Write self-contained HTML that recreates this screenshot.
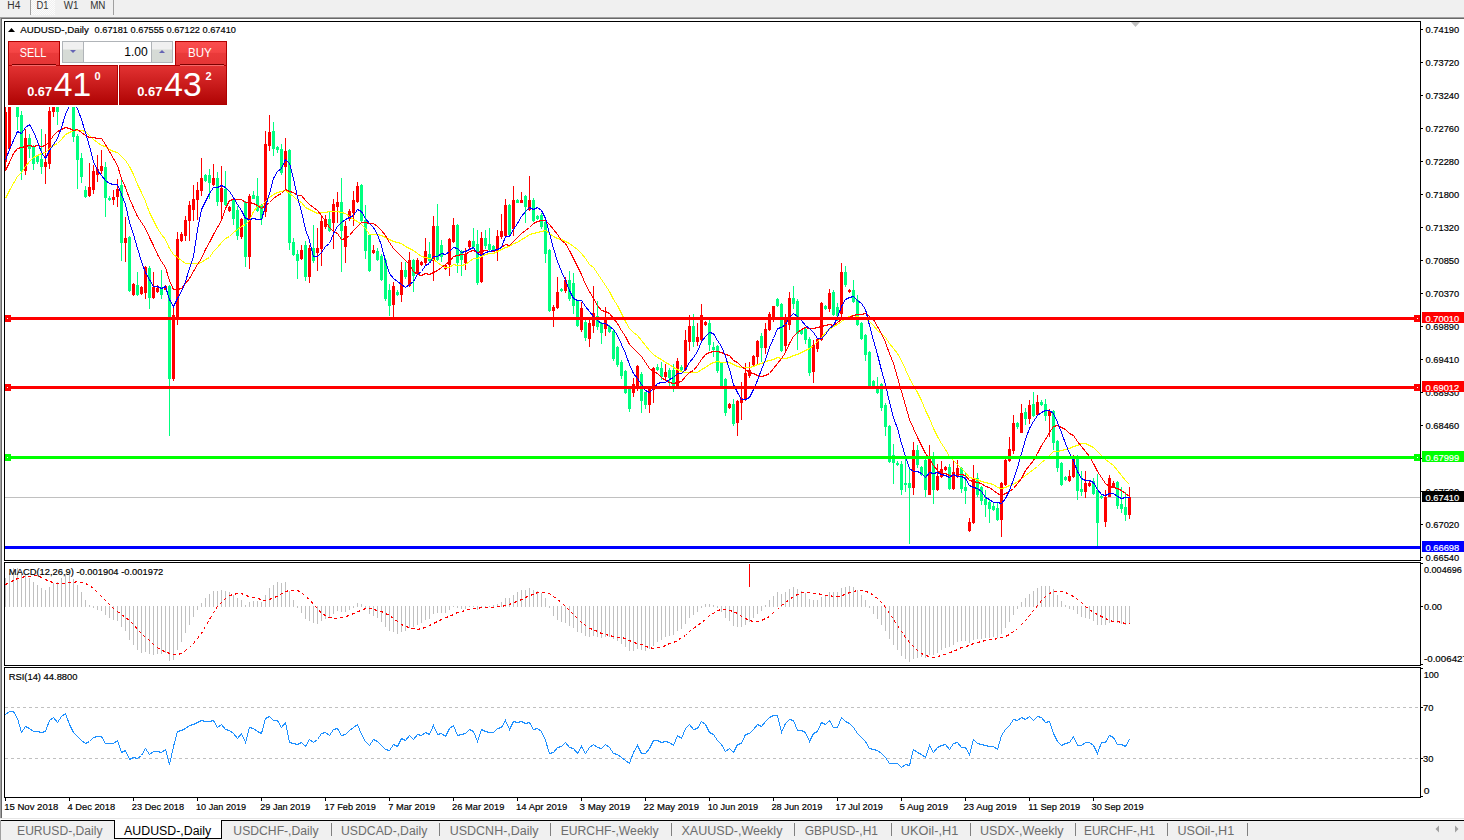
<!DOCTYPE html><html><head><meta charset="utf-8"><style>
html,body{margin:0;padding:0;width:1464px;height:840px;overflow:hidden;background:#fff;}
svg{display:block;} text{font-family:"Liberation Sans",sans-serif;}
</style></head><body>
<svg width="1464" height="840" viewBox="0 0 1464 840">
<defs>
<clipPath id="cm"><rect x="5" y="22" width="1415" height="538"/></clipPath>
<clipPath id="cd"><rect x="5" y="563" width="1415" height="102"/></clipPath>
<clipPath id="cr"><rect x="5" y="668" width="1415" height="129"/></clipPath>
<linearGradient id="gtop" x1="0" y1="0" x2="0" y2="1"><stop offset="0" stop-color="#fb4e4e"/><stop offset="0.45" stop-color="#f44444"/><stop offset="0.5" stop-color="#ea3a3a"/><stop offset="1" stop-color="#e43434"/></linearGradient>
<linearGradient id="gbot" x1="0" y1="0" x2="0" y2="1"><stop offset="0" stop-color="#e23232"/><stop offset="1" stop-color="#b00404"/></linearGradient>
<linearGradient id="gspin" x1="0" y1="0" x2="0" y2="1"><stop offset="0" stop-color="#f0f0f0"/><stop offset="0.35" stop-color="#f0f0f0"/><stop offset="0.4" stop-color="#d6dbd6"/><stop offset="1" stop-color="#d6dbd6"/></linearGradient>
<pattern id="chk" width="2" height="2" patternUnits="userSpaceOnUse"><rect width="2" height="2" fill="#f0f0f0"/><rect width="1" height="1" fill="#fcfcfc"/><rect x="1" y="1" width="1" height="1" fill="#fcfcfc"/></pattern>
</defs>
<rect x="0" y="0" width="1464" height="840" fill="#ffffff"/>
<g shape-rendering="crispEdges">
<rect x="0" y="0" width="1464" height="17" fill="#f0f0f0"/>
<rect x="31" y="0" width="24" height="15" fill="url(#chk)"/>
<rect x="30" y="0" width="1" height="15" fill="#a0a0a0"/>
<rect x="113" y="0" width="1" height="15" fill="#a0a0a0"/>
<rect x="0" y="17" width="1464" height="1" fill="#a0a0a0"/>
<rect x="1" y="18" width="1463" height="1" fill="#696969"/>
<rect x="0" y="17" width="1" height="802" fill="#a0a0a0"/>
<rect x="1" y="18" width="1" height="801" fill="#696969"/>
</g>
<text x="7.35" y="9" font-size="10" fill="#333" text-anchor="start" font-weight="normal" letter-spacing="0"  textLength="13.10" lengthAdjust="spacingAndGlyphs">H4</text>
<text x="36.449999999999996" y="9" font-size="10" fill="#333" text-anchor="start" font-weight="normal" letter-spacing="0"  textLength="12.00" lengthAdjust="spacingAndGlyphs">D1</text>
<text x="63.75" y="9" font-size="10" fill="#333" text-anchor="start" font-weight="normal" letter-spacing="0"  textLength="14.70" lengthAdjust="spacingAndGlyphs">W1</text>
<text x="90.14999999999999" y="9" font-size="10" fill="#333" text-anchor="start" font-weight="normal" letter-spacing="0"  textLength="15.30" lengthAdjust="spacingAndGlyphs">MN</text>
<g clip-path="url(#cm)" shape-rendering="crispEdges">
<rect x="5" y="497" width="1415" height="1" fill="#c0c0c0"/>
<rect x="5" y="100" width="1" height="71" fill="#ff0000"/><rect x="4" y="112" width="3" height="50" fill="#ff0000"/><rect x="9" y="85" width="1" height="66" fill="#ff0000"/><rect x="8" y="94" width="3" height="55" fill="#ff0000"/><rect x="13" y="90" width="1" height="7" fill="#ff0000"/><rect x="12" y="92" width="3" height="3" fill="#ff0000"/><rect x="17" y="85" width="1" height="45" fill="#00ff7f"/><rect x="16" y="94" width="3" height="23" fill="#00ff7f"/><rect x="21" y="111" width="1" height="69" fill="#00ff7f"/><rect x="20" y="115" width="3" height="56" fill="#00ff7f"/><rect x="25" y="129" width="1" height="46" fill="#ff0000"/><rect x="24" y="138" width="3" height="33" fill="#ff0000"/><rect x="29" y="134" width="1" height="24" fill="#00ff7f"/><rect x="28" y="138" width="3" height="11" fill="#00ff7f"/><rect x="33" y="145" width="1" height="25" fill="#00ff7f"/><rect x="32" y="147" width="3" height="17" fill="#00ff7f"/><rect x="37" y="155" width="1" height="9" fill="#00ff7f"/><rect x="36" y="156" width="3" height="6" fill="#00ff7f"/><rect x="41" y="129" width="1" height="45" fill="#00ff7f"/><rect x="40" y="159" width="3" height="8" fill="#00ff7f"/><rect x="45" y="134" width="1" height="50" fill="#ff0000"/><rect x="44" y="162" width="3" height="5" fill="#ff0000"/><rect x="49" y="107" width="1" height="62" fill="#ff0000"/><rect x="48" y="111" width="3" height="53" fill="#ff0000"/><rect x="53" y="88" width="1" height="29" fill="#ff0000"/><rect x="52" y="95" width="3" height="17" fill="#ff0000"/><rect x="57" y="90" width="1" height="35" fill="#00ff7f"/><rect x="56" y="97" width="3" height="15" fill="#00ff7f"/><rect x="61" y="82" width="1" height="11" fill="#ff0000"/><rect x="60" y="84" width="3" height="7" fill="#ff0000"/><rect x="65" y="46" width="1" height="41" fill="#ff0000"/><rect x="64" y="66" width="3" height="19" fill="#ff0000"/><rect x="69" y="45" width="1" height="62" fill="#00ff7f"/><rect x="68" y="66" width="3" height="39" fill="#00ff7f"/><rect x="73" y="100" width="1" height="42" fill="#00ff7f"/><rect x="72" y="104" width="3" height="33" fill="#00ff7f"/><rect x="77" y="134" width="1" height="55" fill="#00ff7f"/><rect x="76" y="136" width="3" height="24" fill="#00ff7f"/><rect x="81" y="153" width="1" height="30" fill="#00ff7f"/><rect x="80" y="158" width="3" height="19" fill="#00ff7f"/><rect x="85" y="186" width="1" height="12" fill="#00ff7f"/><rect x="84" y="190" width="3" height="7" fill="#00ff7f"/><rect x="89" y="163" width="1" height="34" fill="#ff0000"/><rect x="88" y="187" width="3" height="9" fill="#ff0000"/><rect x="93" y="165" width="1" height="29" fill="#ff0000"/><rect x="92" y="171" width="3" height="19" fill="#ff0000"/><rect x="97" y="155" width="1" height="27" fill="#ff0000"/><rect x="96" y="169" width="3" height="6" fill="#ff0000"/><rect x="101" y="150" width="1" height="24" fill="#ff0000"/><rect x="100" y="166" width="3" height="5" fill="#ff0000"/><rect x="105" y="162" width="1" height="55" fill="#00ff7f"/><rect x="104" y="167" width="3" height="31" fill="#00ff7f"/><rect x="109" y="196" width="1" height="5" fill="#00ff7f"/><rect x="108" y="198" width="3" height="2" fill="#00ff7f"/><rect x="113" y="190" width="1" height="15" fill="#ff0000"/><rect x="112" y="197" width="3" height="3" fill="#ff0000"/><rect x="117" y="179" width="1" height="28" fill="#ff0000"/><rect x="116" y="189" width="3" height="8" fill="#ff0000"/><rect x="121" y="180" width="1" height="81" fill="#00ff7f"/><rect x="120" y="185" width="3" height="58" fill="#00ff7f"/><rect x="125" y="217" width="1" height="45" fill="#ff0000"/><rect x="124" y="238" width="3" height="5" fill="#ff0000"/><rect x="129" y="236" width="1" height="56" fill="#00ff7f"/><rect x="128" y="237" width="3" height="54" fill="#00ff7f"/><rect x="133" y="283" width="1" height="13" fill="#ff0000"/><rect x="132" y="284" width="3" height="11" fill="#ff0000"/><rect x="137" y="272" width="1" height="24" fill="#00ff7f"/><rect x="136" y="285" width="3" height="10" fill="#00ff7f"/><rect x="141" y="286" width="1" height="9" fill="#ff0000"/><rect x="140" y="287" width="3" height="7" fill="#ff0000"/><rect x="145" y="266" width="1" height="33" fill="#ff0000"/><rect x="144" y="267" width="3" height="26" fill="#ff0000"/><rect x="149" y="266" width="1" height="43" fill="#00ff7f"/><rect x="148" y="268" width="3" height="30" fill="#00ff7f"/><rect x="153" y="272" width="1" height="27" fill="#ff0000"/><rect x="152" y="287" width="3" height="11" fill="#ff0000"/><rect x="157" y="285" width="1" height="8" fill="#ff0000"/><rect x="156" y="288" width="3" height="4" fill="#ff0000"/><rect x="161" y="270" width="1" height="29" fill="#00ff7f"/><rect x="160" y="287" width="3" height="8" fill="#00ff7f"/><rect x="165" y="285" width="1" height="5" fill="#ff0000"/><rect x="164" y="286" width="3" height="4" fill="#ff0000"/><rect x="169" y="285" width="1" height="151" fill="#00ff7f"/><rect x="168" y="286" width="3" height="93" fill="#00ff7f"/><rect x="173" y="306" width="1" height="75" fill="#ff0000"/><rect x="172" y="315" width="3" height="64" fill="#ff0000"/><rect x="177" y="232" width="1" height="93" fill="#ff0000"/><rect x="176" y="239" width="3" height="78" fill="#ff0000"/><rect x="181" y="232" width="1" height="10" fill="#ff0000"/><rect x="180" y="234" width="3" height="7" fill="#ff0000"/><rect x="185" y="216" width="1" height="25" fill="#ff0000"/><rect x="184" y="220" width="3" height="16" fill="#ff0000"/><rect x="189" y="201" width="1" height="40" fill="#ff0000"/><rect x="188" y="205" width="3" height="16" fill="#ff0000"/><rect x="193" y="185" width="1" height="36" fill="#ff0000"/><rect x="192" y="199" width="3" height="11" fill="#ff0000"/><rect x="197" y="182" width="1" height="38" fill="#ff0000"/><rect x="196" y="190" width="3" height="10" fill="#ff0000"/><rect x="201" y="158" width="1" height="38" fill="#ff0000"/><rect x="200" y="178" width="3" height="13" fill="#ff0000"/><rect x="205" y="174" width="1" height="8" fill="#00ff7f"/><rect x="204" y="175" width="3" height="6" fill="#00ff7f"/><rect x="209" y="169" width="1" height="30" fill="#00ff7f"/><rect x="208" y="175" width="3" height="8" fill="#00ff7f"/><rect x="213" y="164" width="1" height="22" fill="#ff0000"/><rect x="212" y="178" width="3" height="7" fill="#ff0000"/><rect x="217" y="172" width="1" height="34" fill="#00ff7f"/><rect x="216" y="178" width="3" height="24" fill="#00ff7f"/><rect x="221" y="166" width="1" height="53" fill="#ff0000"/><rect x="220" y="188" width="3" height="14" fill="#ff0000"/><rect x="225" y="171" width="1" height="35" fill="#00ff7f"/><rect x="224" y="189" width="3" height="16" fill="#00ff7f"/><rect x="229" y="206" width="1" height="6" fill="#ff0000"/><rect x="228" y="207" width="3" height="4" fill="#ff0000"/><rect x="233" y="198" width="1" height="27" fill="#00ff7f"/><rect x="232" y="200" width="3" height="19" fill="#00ff7f"/><rect x="237" y="206" width="1" height="34" fill="#00ff7f"/><rect x="236" y="210" width="3" height="26" fill="#00ff7f"/><rect x="241" y="218" width="1" height="21" fill="#ff0000"/><rect x="240" y="219" width="3" height="18" fill="#ff0000"/><rect x="245" y="201" width="1" height="66" fill="#00ff7f"/><rect x="244" y="202" width="3" height="55" fill="#00ff7f"/><rect x="249" y="194" width="1" height="75" fill="#ff0000"/><rect x="248" y="196" width="3" height="61" fill="#ff0000"/><rect x="253" y="191" width="1" height="8" fill="#00ff7f"/><rect x="252" y="195" width="3" height="4" fill="#00ff7f"/><rect x="257" y="178" width="1" height="34" fill="#00ff7f"/><rect x="256" y="196" width="3" height="15" fill="#00ff7f"/><rect x="261" y="204" width="1" height="21" fill="#00ff7f"/><rect x="260" y="205" width="3" height="14" fill="#00ff7f"/><rect x="265" y="131" width="1" height="86" fill="#ff0000"/><rect x="264" y="144" width="3" height="68" fill="#ff0000"/><rect x="269" y="115" width="1" height="36" fill="#ff0000"/><rect x="268" y="132" width="3" height="14" fill="#ff0000"/><rect x="273" y="122" width="1" height="34" fill="#00ff7f"/><rect x="272" y="131" width="3" height="18" fill="#00ff7f"/><rect x="277" y="146" width="1" height="7" fill="#00ff7f"/><rect x="276" y="147" width="3" height="3" fill="#00ff7f"/><rect x="281" y="144" width="1" height="31" fill="#00ff7f"/><rect x="280" y="149" width="3" height="24" fill="#00ff7f"/><rect x="285" y="138" width="1" height="53" fill="#ff0000"/><rect x="284" y="151" width="3" height="16" fill="#ff0000"/><rect x="289" y="149" width="1" height="101" fill="#00ff7f"/><rect x="288" y="150" width="3" height="93" fill="#00ff7f"/><rect x="293" y="238" width="1" height="18" fill="#00ff7f"/><rect x="292" y="242" width="3" height="13" fill="#00ff7f"/><rect x="297" y="250" width="1" height="29" fill="#00ff7f"/><rect x="296" y="254" width="3" height="7" fill="#00ff7f"/><rect x="301" y="245" width="1" height="15" fill="#ff0000"/><rect x="300" y="250" width="3" height="9" fill="#ff0000"/><rect x="305" y="241" width="1" height="40" fill="#00ff7f"/><rect x="304" y="245" width="3" height="32" fill="#00ff7f"/><rect x="309" y="245" width="1" height="38" fill="#ff0000"/><rect x="308" y="248" width="3" height="29" fill="#ff0000"/><rect x="313" y="225" width="1" height="38" fill="#00ff7f"/><rect x="312" y="248" width="3" height="13" fill="#00ff7f"/><rect x="317" y="228" width="1" height="43" fill="#ff0000"/><rect x="316" y="248" width="3" height="5" fill="#ff0000"/><rect x="321" y="215" width="1" height="51" fill="#ff0000"/><rect x="320" y="221" width="3" height="28" fill="#ff0000"/><rect x="325" y="215" width="1" height="14" fill="#ff0000"/><rect x="324" y="219" width="3" height="8" fill="#ff0000"/><rect x="329" y="212" width="1" height="20" fill="#00ff7f"/><rect x="328" y="219" width="3" height="12" fill="#00ff7f"/><rect x="333" y="199" width="1" height="50" fill="#ff0000"/><rect x="332" y="204" width="3" height="19" fill="#ff0000"/><rect x="337" y="192" width="1" height="31" fill="#ff0000"/><rect x="336" y="202" width="3" height="5" fill="#ff0000"/><rect x="341" y="178" width="1" height="94" fill="#00ff7f"/><rect x="340" y="202" width="3" height="29" fill="#00ff7f"/><rect x="345" y="221" width="1" height="42" fill="#ff0000"/><rect x="344" y="226" width="3" height="21" fill="#ff0000"/><rect x="349" y="209" width="1" height="12" fill="#ff0000"/><rect x="348" y="211" width="3" height="8" fill="#ff0000"/><rect x="353" y="191" width="1" height="35" fill="#ff0000"/><rect x="352" y="200" width="3" height="13" fill="#ff0000"/><rect x="357" y="182" width="1" height="21" fill="#ff0000"/><rect x="356" y="186" width="3" height="16" fill="#ff0000"/><rect x="361" y="184" width="1" height="39" fill="#00ff7f"/><rect x="360" y="185" width="3" height="36" fill="#00ff7f"/><rect x="365" y="205" width="1" height="54" fill="#00ff7f"/><rect x="364" y="220" width="3" height="31" fill="#00ff7f"/><rect x="369" y="234" width="1" height="38" fill="#00ff7f"/><rect x="368" y="235" width="3" height="36" fill="#00ff7f"/><rect x="373" y="245" width="1" height="9" fill="#ff0000"/><rect x="372" y="250" width="3" height="3" fill="#ff0000"/><rect x="377" y="248" width="1" height="13" fill="#00ff7f"/><rect x="376" y="251" width="3" height="9" fill="#00ff7f"/><rect x="381" y="254" width="1" height="27" fill="#00ff7f"/><rect x="380" y="256" width="3" height="24" fill="#00ff7f"/><rect x="385" y="258" width="1" height="43" fill="#00ff7f"/><rect x="384" y="260" width="3" height="39" fill="#00ff7f"/><rect x="389" y="284" width="1" height="32" fill="#00ff7f"/><rect x="388" y="290" width="3" height="16" fill="#00ff7f"/><rect x="393" y="282" width="1" height="37" fill="#ff0000"/><rect x="392" y="286" width="3" height="19" fill="#ff0000"/><rect x="397" y="290" width="1" height="6" fill="#00ff7f"/><rect x="396" y="292" width="3" height="3" fill="#00ff7f"/><rect x="401" y="262" width="1" height="40" fill="#ff0000"/><rect x="400" y="270" width="3" height="25" fill="#ff0000"/><rect x="405" y="262" width="1" height="17" fill="#00ff7f"/><rect x="404" y="270" width="3" height="7" fill="#00ff7f"/><rect x="409" y="252" width="1" height="35" fill="#ff0000"/><rect x="408" y="260" width="3" height="26" fill="#ff0000"/><rect x="413" y="259" width="1" height="33" fill="#00ff7f"/><rect x="412" y="260" width="3" height="16" fill="#00ff7f"/><rect x="417" y="258" width="1" height="17" fill="#ff0000"/><rect x="416" y="260" width="3" height="13" fill="#ff0000"/><rect x="421" y="261" width="1" height="5" fill="#ff0000"/><rect x="420" y="262" width="3" height="3" fill="#ff0000"/><rect x="425" y="238" width="1" height="28" fill="#ff0000"/><rect x="424" y="251" width="3" height="12" fill="#ff0000"/><rect x="429" y="242" width="1" height="21" fill="#00ff7f"/><rect x="428" y="254" width="3" height="7" fill="#00ff7f"/><rect x="433" y="216" width="1" height="65" fill="#ff0000"/><rect x="432" y="226" width="3" height="35" fill="#ff0000"/><rect x="437" y="204" width="1" height="57" fill="#00ff7f"/><rect x="436" y="226" width="3" height="34" fill="#00ff7f"/><rect x="441" y="240" width="1" height="22" fill="#00ff7f"/><rect x="440" y="245" width="3" height="12" fill="#00ff7f"/><rect x="445" y="264" width="1" height="6" fill="#ff0000"/><rect x="444" y="265" width="3" height="4" fill="#ff0000"/><rect x="449" y="238" width="1" height="38" fill="#ff0000"/><rect x="448" y="239" width="3" height="26" fill="#ff0000"/><rect x="453" y="218" width="1" height="25" fill="#ff0000"/><rect x="452" y="225" width="3" height="17" fill="#ff0000"/><rect x="457" y="224" width="1" height="49" fill="#00ff7f"/><rect x="456" y="225" width="3" height="38" fill="#00ff7f"/><rect x="461" y="250" width="1" height="26" fill="#00ff7f"/><rect x="460" y="251" width="3" height="9" fill="#00ff7f"/><rect x="465" y="248" width="1" height="22" fill="#ff0000"/><rect x="464" y="254" width="3" height="9" fill="#ff0000"/><rect x="469" y="240" width="1" height="9" fill="#ff0000"/><rect x="468" y="241" width="3" height="6" fill="#ff0000"/><rect x="473" y="228" width="1" height="21" fill="#00ff7f"/><rect x="472" y="241" width="3" height="6" fill="#00ff7f"/><rect x="477" y="230" width="1" height="55" fill="#00ff7f"/><rect x="476" y="244" width="3" height="39" fill="#00ff7f"/><rect x="481" y="232" width="1" height="51" fill="#ff0000"/><rect x="480" y="238" width="3" height="44" fill="#ff0000"/><rect x="485" y="230" width="1" height="19" fill="#00ff7f"/><rect x="484" y="238" width="3" height="8" fill="#00ff7f"/><rect x="489" y="228" width="1" height="23" fill="#00ff7f"/><rect x="488" y="244" width="3" height="6" fill="#00ff7f"/><rect x="493" y="245" width="1" height="6" fill="#00ff7f"/><rect x="492" y="246" width="3" height="4" fill="#00ff7f"/><rect x="497" y="230" width="1" height="31" fill="#ff0000"/><rect x="496" y="236" width="3" height="14" fill="#ff0000"/><rect x="501" y="214" width="1" height="25" fill="#ff0000"/><rect x="500" y="231" width="3" height="6" fill="#ff0000"/><rect x="505" y="199" width="1" height="38" fill="#ff0000"/><rect x="504" y="205" width="3" height="31" fill="#ff0000"/><rect x="509" y="204" width="1" height="32" fill="#00ff7f"/><rect x="508" y="205" width="3" height="30" fill="#00ff7f"/><rect x="513" y="186" width="1" height="50" fill="#ff0000"/><rect x="512" y="200" width="3" height="29" fill="#ff0000"/><rect x="517" y="199" width="1" height="4" fill="#00ff7f"/><rect x="516" y="200" width="3" height="3" fill="#00ff7f"/><rect x="521" y="192" width="1" height="11" fill="#ff0000"/><rect x="520" y="200" width="3" height="3" fill="#ff0000"/><rect x="525" y="195" width="1" height="28" fill="#00ff7f"/><rect x="524" y="196" width="3" height="11" fill="#00ff7f"/><rect x="529" y="176" width="1" height="35" fill="#ff0000"/><rect x="528" y="200" width="3" height="10" fill="#ff0000"/><rect x="533" y="198" width="1" height="24" fill="#00ff7f"/><rect x="532" y="200" width="3" height="21" fill="#00ff7f"/><rect x="537" y="215" width="1" height="5" fill="#00ff7f"/><rect x="536" y="216" width="3" height="3" fill="#00ff7f"/><rect x="541" y="213" width="1" height="16" fill="#00ff7f"/><rect x="540" y="215" width="3" height="12" fill="#00ff7f"/><rect x="545" y="219" width="1" height="44" fill="#00ff7f"/><rect x="544" y="222" width="3" height="32" fill="#00ff7f"/><rect x="549" y="249" width="1" height="63" fill="#00ff7f"/><rect x="548" y="250" width="3" height="61" fill="#00ff7f"/><rect x="553" y="305" width="1" height="22" fill="#ff0000"/><rect x="552" y="307" width="3" height="4" fill="#ff0000"/><rect x="557" y="277" width="1" height="32" fill="#ff0000"/><rect x="556" y="292" width="3" height="16" fill="#ff0000"/><rect x="561" y="288" width="1" height="4" fill="#00ff7f"/><rect x="560" y="289" width="3" height="2" fill="#00ff7f"/><rect x="565" y="277" width="1" height="16" fill="#ff0000"/><rect x="564" y="280" width="3" height="11" fill="#ff0000"/><rect x="569" y="271" width="1" height="30" fill="#00ff7f"/><rect x="568" y="280" width="3" height="19" fill="#00ff7f"/><rect x="573" y="273" width="1" height="41" fill="#00ff7f"/><rect x="572" y="283" width="3" height="23" fill="#00ff7f"/><rect x="577" y="300" width="1" height="27" fill="#00ff7f"/><rect x="576" y="301" width="3" height="25" fill="#00ff7f"/><rect x="581" y="302" width="1" height="30" fill="#ff0000"/><rect x="580" y="308" width="3" height="22" fill="#ff0000"/><rect x="585" y="320" width="1" height="21" fill="#00ff7f"/><rect x="584" y="322" width="3" height="16" fill="#00ff7f"/><rect x="589" y="320" width="1" height="27" fill="#ff0000"/><rect x="588" y="323" width="3" height="16" fill="#ff0000"/><rect x="593" y="286" width="1" height="47" fill="#ff0000"/><rect x="592" y="313" width="3" height="13" fill="#ff0000"/><rect x="597" y="301" width="1" height="29" fill="#00ff7f"/><rect x="596" y="316" width="3" height="11" fill="#00ff7f"/><rect x="601" y="322" width="1" height="22" fill="#00ff7f"/><rect x="600" y="323" width="3" height="10" fill="#00ff7f"/><rect x="605" y="307" width="1" height="29" fill="#ff0000"/><rect x="604" y="320" width="3" height="9" fill="#ff0000"/><rect x="609" y="325" width="1" height="8" fill="#00ff7f"/><rect x="608" y="326" width="3" height="6" fill="#00ff7f"/><rect x="613" y="329" width="1" height="32" fill="#00ff7f"/><rect x="612" y="331" width="3" height="28" fill="#00ff7f"/><rect x="617" y="346" width="1" height="21" fill="#00ff7f"/><rect x="616" y="347" width="3" height="18" fill="#00ff7f"/><rect x="621" y="360" width="1" height="19" fill="#00ff7f"/><rect x="620" y="362" width="3" height="14" fill="#00ff7f"/><rect x="625" y="370" width="1" height="24" fill="#00ff7f"/><rect x="624" y="371" width="3" height="22" fill="#00ff7f"/><rect x="629" y="387" width="1" height="25" fill="#00ff7f"/><rect x="628" y="389" width="3" height="20" fill="#00ff7f"/><rect x="633" y="378" width="1" height="19" fill="#ff0000"/><rect x="632" y="384" width="3" height="9" fill="#ff0000"/><rect x="637" y="365" width="1" height="26" fill="#ff0000"/><rect x="636" y="366" width="3" height="22" fill="#ff0000"/><rect x="641" y="372" width="1" height="41" fill="#00ff7f"/><rect x="640" y="374" width="3" height="27" fill="#00ff7f"/><rect x="645" y="392" width="1" height="17" fill="#00ff7f"/><rect x="644" y="392" width="3" height="13" fill="#00ff7f"/><rect x="649" y="387" width="1" height="26" fill="#ff0000"/><rect x="648" y="389" width="3" height="16" fill="#ff0000"/><rect x="653" y="367" width="1" height="36" fill="#ff0000"/><rect x="652" y="368" width="3" height="22" fill="#ff0000"/><rect x="657" y="364" width="1" height="7" fill="#00ff7f"/><rect x="656" y="367" width="3" height="3" fill="#00ff7f"/><rect x="661" y="362" width="1" height="18" fill="#00ff7f"/><rect x="660" y="368" width="3" height="9" fill="#00ff7f"/><rect x="665" y="364" width="1" height="17" fill="#ff0000"/><rect x="664" y="372" width="3" height="5" fill="#ff0000"/><rect x="669" y="368" width="1" height="19" fill="#00ff7f"/><rect x="668" y="370" width="3" height="8" fill="#00ff7f"/><rect x="673" y="364" width="1" height="28" fill="#00ff7f"/><rect x="672" y="370" width="3" height="18" fill="#00ff7f"/><rect x="677" y="358" width="1" height="31" fill="#ff0000"/><rect x="676" y="361" width="3" height="27" fill="#ff0000"/><rect x="681" y="365" width="1" height="6" fill="#00ff7f"/><rect x="680" y="367" width="3" height="3" fill="#00ff7f"/><rect x="685" y="330" width="1" height="41" fill="#ff0000"/><rect x="684" y="340" width="3" height="30" fill="#ff0000"/><rect x="689" y="315" width="1" height="36" fill="#ff0000"/><rect x="688" y="326" width="3" height="16" fill="#ff0000"/><rect x="693" y="314" width="1" height="33" fill="#00ff7f"/><rect x="692" y="326" width="3" height="16" fill="#00ff7f"/><rect x="697" y="323" width="1" height="23" fill="#ff0000"/><rect x="696" y="337" width="3" height="5" fill="#ff0000"/><rect x="701" y="304" width="1" height="37" fill="#ff0000"/><rect x="700" y="315" width="3" height="25" fill="#ff0000"/><rect x="705" y="321" width="1" height="5" fill="#ff0000"/><rect x="704" y="322" width="3" height="3" fill="#ff0000"/><rect x="709" y="320" width="1" height="31" fill="#00ff7f"/><rect x="708" y="323" width="3" height="22" fill="#00ff7f"/><rect x="713" y="342" width="1" height="15" fill="#00ff7f"/><rect x="712" y="347" width="3" height="3" fill="#00ff7f"/><rect x="717" y="345" width="1" height="28" fill="#00ff7f"/><rect x="716" y="346" width="3" height="25" fill="#00ff7f"/><rect x="721" y="362" width="1" height="25" fill="#00ff7f"/><rect x="720" y="363" width="3" height="23" fill="#00ff7f"/><rect x="725" y="378" width="1" height="38" fill="#00ff7f"/><rect x="724" y="379" width="3" height="34" fill="#00ff7f"/><rect x="729" y="403" width="1" height="6" fill="#ff0000"/><rect x="728" y="404" width="3" height="4" fill="#ff0000"/><rect x="733" y="399" width="1" height="27" fill="#00ff7f"/><rect x="732" y="404" width="3" height="20" fill="#00ff7f"/><rect x="737" y="400" width="1" height="36" fill="#ff0000"/><rect x="736" y="401" width="3" height="22" fill="#ff0000"/><rect x="741" y="382" width="1" height="38" fill="#ff0000"/><rect x="740" y="398" width="3" height="5" fill="#ff0000"/><rect x="745" y="363" width="1" height="38" fill="#ff0000"/><rect x="744" y="373" width="3" height="26" fill="#ff0000"/><rect x="749" y="362" width="1" height="16" fill="#ff0000"/><rect x="748" y="370" width="3" height="6" fill="#ff0000"/><rect x="753" y="355" width="1" height="11" fill="#ff0000"/><rect x="752" y="356" width="3" height="9" fill="#ff0000"/><rect x="757" y="340" width="1" height="25" fill="#ff0000"/><rect x="756" y="341" width="3" height="16" fill="#ff0000"/><rect x="761" y="333" width="1" height="29" fill="#00ff7f"/><rect x="760" y="336" width="3" height="12" fill="#00ff7f"/><rect x="765" y="323" width="1" height="31" fill="#ff0000"/><rect x="764" y="329" width="3" height="19" fill="#ff0000"/><rect x="769" y="312" width="1" height="19" fill="#ff0000"/><rect x="768" y="314" width="3" height="16" fill="#ff0000"/><rect x="773" y="306" width="1" height="16" fill="#ff0000"/><rect x="772" y="306" width="3" height="13" fill="#ff0000"/><rect x="777" y="298" width="1" height="9" fill="#00ff7f"/><rect x="776" y="299" width="3" height="7" fill="#00ff7f"/><rect x="781" y="303" width="1" height="49" fill="#00ff7f"/><rect x="780" y="304" width="3" height="47" fill="#00ff7f"/><rect x="785" y="314" width="1" height="37" fill="#ff0000"/><rect x="784" y="318" width="3" height="28" fill="#ff0000"/><rect x="789" y="292" width="1" height="38" fill="#ff0000"/><rect x="788" y="298" width="3" height="27" fill="#ff0000"/><rect x="793" y="286" width="1" height="23" fill="#00ff7f"/><rect x="792" y="298" width="3" height="6" fill="#00ff7f"/><rect x="797" y="299" width="1" height="51" fill="#00ff7f"/><rect x="796" y="301" width="3" height="33" fill="#00ff7f"/><rect x="801" y="329" width="1" height="6" fill="#00ff7f"/><rect x="800" y="330" width="3" height="4" fill="#00ff7f"/><rect x="805" y="327" width="1" height="17" fill="#00ff7f"/><rect x="804" y="329" width="3" height="11" fill="#00ff7f"/><rect x="809" y="337" width="1" height="39" fill="#00ff7f"/><rect x="808" y="339" width="3" height="34" fill="#00ff7f"/><rect x="813" y="340" width="1" height="43" fill="#ff0000"/><rect x="812" y="345" width="3" height="27" fill="#ff0000"/><rect x="817" y="338" width="1" height="14" fill="#ff0000"/><rect x="816" y="339" width="3" height="10" fill="#ff0000"/><rect x="821" y="302" width="1" height="39" fill="#ff0000"/><rect x="820" y="303" width="3" height="37" fill="#ff0000"/><rect x="825" y="305" width="1" height="5" fill="#00ff7f"/><rect x="824" y="306" width="3" height="3" fill="#00ff7f"/><rect x="829" y="289" width="1" height="23" fill="#ff0000"/><rect x="828" y="293" width="3" height="16" fill="#ff0000"/><rect x="833" y="290" width="1" height="26" fill="#00ff7f"/><rect x="832" y="292" width="3" height="23" fill="#00ff7f"/><rect x="837" y="303" width="1" height="18" fill="#00ff7f"/><rect x="836" y="307" width="3" height="9" fill="#00ff7f"/><rect x="841" y="263" width="1" height="54" fill="#ff0000"/><rect x="840" y="272" width="3" height="42" fill="#ff0000"/><rect x="845" y="266" width="1" height="21" fill="#00ff7f"/><rect x="844" y="272" width="3" height="13" fill="#00ff7f"/><rect x="849" y="289" width="1" height="4" fill="#ff0000"/><rect x="848" y="290" width="3" height="2" fill="#ff0000"/><rect x="853" y="280" width="1" height="23" fill="#00ff7f"/><rect x="852" y="290" width="3" height="12" fill="#00ff7f"/><rect x="857" y="295" width="1" height="31" fill="#00ff7f"/><rect x="856" y="300" width="3" height="25" fill="#00ff7f"/><rect x="861" y="322" width="1" height="18" fill="#00ff7f"/><rect x="860" y="323" width="3" height="16" fill="#00ff7f"/><rect x="865" y="334" width="1" height="27" fill="#00ff7f"/><rect x="864" y="335" width="3" height="20" fill="#00ff7f"/><rect x="869" y="351" width="1" height="36" fill="#00ff7f"/><rect x="868" y="352" width="3" height="35" fill="#00ff7f"/><rect x="873" y="380" width="1" height="9" fill="#00ff7f"/><rect x="872" y="381" width="3" height="6" fill="#00ff7f"/><rect x="877" y="377" width="1" height="17" fill="#00ff7f"/><rect x="876" y="386" width="3" height="7" fill="#00ff7f"/><rect x="881" y="383" width="1" height="28" fill="#00ff7f"/><rect x="880" y="384" width="3" height="24" fill="#00ff7f"/><rect x="885" y="403" width="1" height="33" fill="#00ff7f"/><rect x="884" y="405" width="3" height="22" fill="#00ff7f"/><rect x="889" y="425" width="1" height="38" fill="#00ff7f"/><rect x="888" y="426" width="3" height="36" fill="#00ff7f"/><rect x="893" y="444" width="1" height="40" fill="#00ff7f"/><rect x="892" y="455" width="3" height="8" fill="#00ff7f"/><rect x="897" y="461" width="1" height="5" fill="#00ff7f"/><rect x="896" y="463" width="3" height="2" fill="#00ff7f"/><rect x="901" y="461" width="1" height="34" fill="#00ff7f"/><rect x="900" y="464" width="3" height="26" fill="#00ff7f"/><rect x="905" y="458" width="1" height="34" fill="#00ff7f"/><rect x="904" y="483" width="3" height="2" fill="#00ff7f"/><rect x="909" y="468" width="1" height="76" fill="#00ff7f"/><rect x="908" y="483" width="3" height="5" fill="#00ff7f"/><rect x="913" y="442" width="1" height="53" fill="#ff0000"/><rect x="912" y="450" width="3" height="38" fill="#ff0000"/><rect x="917" y="445" width="1" height="23" fill="#00ff7f"/><rect x="916" y="450" width="3" height="15" fill="#00ff7f"/><rect x="921" y="466" width="1" height="10" fill="#00ff7f"/><rect x="920" y="467" width="3" height="8" fill="#00ff7f"/><rect x="925" y="459" width="1" height="38" fill="#00ff7f"/><rect x="924" y="460" width="3" height="30" fill="#00ff7f"/><rect x="929" y="445" width="1" height="50" fill="#ff0000"/><rect x="928" y="459" width="3" height="36" fill="#ff0000"/><rect x="933" y="452" width="1" height="52" fill="#00ff7f"/><rect x="932" y="458" width="3" height="32" fill="#00ff7f"/><rect x="937" y="464" width="1" height="27" fill="#ff0000"/><rect x="936" y="476" width="3" height="14" fill="#ff0000"/><rect x="941" y="461" width="1" height="17" fill="#ff0000"/><rect x="940" y="469" width="3" height="8" fill="#ff0000"/><rect x="945" y="466" width="1" height="5" fill="#ff0000"/><rect x="944" y="467" width="3" height="3" fill="#ff0000"/><rect x="949" y="464" width="1" height="26" fill="#00ff7f"/><rect x="948" y="467" width="3" height="22" fill="#00ff7f"/><rect x="953" y="461" width="1" height="29" fill="#ff0000"/><rect x="952" y="472" width="3" height="17" fill="#ff0000"/><rect x="957" y="460" width="1" height="18" fill="#ff0000"/><rect x="956" y="468" width="3" height="9" fill="#ff0000"/><rect x="961" y="467" width="1" height="26" fill="#00ff7f"/><rect x="960" y="468" width="3" height="21" fill="#00ff7f"/><rect x="965" y="473" width="1" height="31" fill="#00ff7f"/><rect x="964" y="487" width="3" height="4" fill="#00ff7f"/><rect x="969" y="518" width="1" height="14" fill="#ff0000"/><rect x="968" y="522" width="3" height="9" fill="#ff0000"/><rect x="973" y="465" width="1" height="59" fill="#ff0000"/><rect x="972" y="478" width="3" height="45" fill="#ff0000"/><rect x="977" y="473" width="1" height="24" fill="#00ff7f"/><rect x="976" y="478" width="3" height="17" fill="#00ff7f"/><rect x="981" y="486" width="1" height="19" fill="#00ff7f"/><rect x="980" y="487" width="3" height="14" fill="#00ff7f"/><rect x="985" y="490" width="1" height="27" fill="#00ff7f"/><rect x="984" y="499" width="3" height="6" fill="#00ff7f"/><rect x="989" y="499" width="1" height="24" fill="#00ff7f"/><rect x="988" y="502" width="3" height="7" fill="#00ff7f"/><rect x="993" y="503" width="1" height="8" fill="#00ff7f"/><rect x="992" y="506" width="3" height="4" fill="#00ff7f"/><rect x="997" y="502" width="1" height="19" fill="#00ff7f"/><rect x="996" y="508" width="3" height="12" fill="#00ff7f"/><rect x="1001" y="482" width="1" height="55" fill="#ff0000"/><rect x="1000" y="483" width="3" height="37" fill="#ff0000"/><rect x="1005" y="459" width="1" height="27" fill="#ff0000"/><rect x="1004" y="460" width="3" height="25" fill="#ff0000"/><rect x="1009" y="437" width="1" height="25" fill="#ff0000"/><rect x="1008" y="449" width="3" height="12" fill="#ff0000"/><rect x="1013" y="415" width="1" height="39" fill="#ff0000"/><rect x="1012" y="423" width="3" height="28" fill="#ff0000"/><rect x="1017" y="422" width="1" height="7" fill="#00ff7f"/><rect x="1016" y="423" width="3" height="4" fill="#00ff7f"/><rect x="1021" y="404" width="1" height="29" fill="#ff0000"/><rect x="1020" y="413" width="3" height="20" fill="#ff0000"/><rect x="1025" y="408" width="1" height="17" fill="#00ff7f"/><rect x="1024" y="412" width="3" height="7" fill="#00ff7f"/><rect x="1029" y="400" width="1" height="24" fill="#ff0000"/><rect x="1028" y="405" width="3" height="14" fill="#ff0000"/><rect x="1033" y="392" width="1" height="25" fill="#00ff7f"/><rect x="1032" y="404" width="3" height="12" fill="#00ff7f"/><rect x="1037" y="395" width="1" height="21" fill="#ff0000"/><rect x="1036" y="402" width="3" height="13" fill="#ff0000"/><rect x="1041" y="400" width="1" height="6" fill="#00ff7f"/><rect x="1040" y="402" width="3" height="3" fill="#00ff7f"/><rect x="1045" y="399" width="1" height="22" fill="#00ff7f"/><rect x="1044" y="404" width="3" height="12" fill="#00ff7f"/><rect x="1049" y="409" width="1" height="28" fill="#ff0000"/><rect x="1048" y="411" width="3" height="5" fill="#ff0000"/><rect x="1053" y="410" width="1" height="40" fill="#00ff7f"/><rect x="1052" y="411" width="3" height="32" fill="#00ff7f"/><rect x="1057" y="440" width="1" height="32" fill="#00ff7f"/><rect x="1056" y="441" width="3" height="27" fill="#00ff7f"/><rect x="1061" y="462" width="1" height="24" fill="#00ff7f"/><rect x="1060" y="463" width="3" height="22" fill="#00ff7f"/><rect x="1065" y="476" width="1" height="5" fill="#00ff7f"/><rect x="1064" y="477" width="3" height="3" fill="#00ff7f"/><rect x="1069" y="470" width="1" height="12" fill="#ff0000"/><rect x="1068" y="476" width="3" height="5" fill="#ff0000"/><rect x="1073" y="455" width="1" height="23" fill="#ff0000"/><rect x="1072" y="459" width="3" height="18" fill="#ff0000"/><rect x="1077" y="455" width="1" height="45" fill="#00ff7f"/><rect x="1076" y="458" width="3" height="33" fill="#00ff7f"/><rect x="1081" y="471" width="1" height="25" fill="#00ff7f"/><rect x="1080" y="489" width="3" height="3" fill="#00ff7f"/><rect x="1085" y="471" width="1" height="27" fill="#ff0000"/><rect x="1084" y="483" width="3" height="9" fill="#ff0000"/><rect x="1089" y="481" width="1" height="6" fill="#ff0000"/><rect x="1088" y="483" width="3" height="3" fill="#ff0000"/><rect x="1093" y="478" width="1" height="17" fill="#00ff7f"/><rect x="1092" y="481" width="3" height="13" fill="#00ff7f"/><rect x="1097" y="474" width="1" height="73" fill="#00ff7f"/><rect x="1096" y="490" width="3" height="33" fill="#00ff7f"/><rect x="1101" y="495" width="1" height="4" fill="#00ff7f"/><rect x="1100" y="496" width="3" height="2" fill="#00ff7f"/><rect x="1105" y="490" width="1" height="37" fill="#ff0000"/><rect x="1104" y="497" width="3" height="25" fill="#ff0000"/><rect x="1109" y="475" width="1" height="22" fill="#ff0000"/><rect x="1108" y="478" width="3" height="19" fill="#ff0000"/><rect x="1113" y="481" width="1" height="6" fill="#ff0000"/><rect x="1112" y="483" width="3" height="4" fill="#ff0000"/><rect x="1117" y="481" width="1" height="28" fill="#00ff7f"/><rect x="1116" y="482" width="3" height="24" fill="#00ff7f"/><rect x="1121" y="487" width="1" height="26" fill="#00ff7f"/><rect x="1120" y="504" width="3" height="5" fill="#00ff7f"/><rect x="1125" y="492" width="1" height="29" fill="#00ff7f"/><rect x="1124" y="507" width="3" height="8" fill="#00ff7f"/><rect x="1129" y="487" width="1" height="32" fill="#ff0000"/><rect x="1128" y="497" width="3" height="18" fill="#ff0000"/>
</g>
<g clip-path="url(#cm)">
<polyline fill="none" stroke="#ffff00" stroke-width="1" shape-rendering="crispEdges" points="5.5,198.5 9.5,190.5 13.5,183.5 17.5,176.5 21.5,172.5 25.5,166.5 29.5,161.5 33.5,157.5 37.5,155.5 41.5,153.5 45.5,152.5 49.5,148.5 53.5,145.5 57.5,143.5 61.5,139.5 65.5,134.5 69.5,132.5 73.5,130.5 77.5,130.5 81.5,130.5 85.5,131.5 89.5,135.5 93.5,139.5 97.5,142.5 101.5,145.5 105.5,146.5 109.5,149.5 113.5,151.5 117.5,152.5 121.5,156.5 125.5,160.5 129.5,166.5 133.5,174.5 137.5,184.5 141.5,192.5 145.5,201.5 149.5,212.5 153.5,220.5 157.5,228.5 161.5,234.5 165.5,239.5 169.5,248.5 173.5,254.5 177.5,257.5 181.5,260.5 185.5,263.5 189.5,263.5 193.5,263.5 197.5,263.5 201.5,262.5 205.5,259.5 209.5,257.5 213.5,251.5 217.5,247.5 221.5,242.5 225.5,238.5 229.5,236.5 233.5,232.5 237.5,229.5 241.5,226.5 245.5,224.5 249.5,220.5 253.5,211.5 257.5,206.5 261.5,205.5 265.5,201.5 269.5,197.5 273.5,194.5 277.5,192.5 281.5,191.5 285.5,190.5 289.5,193.5 293.5,196.5 297.5,200.5 301.5,202.5 305.5,207.5 309.5,209.5 313.5,211.5 317.5,213.5 321.5,212.5 325.5,212.5 329.5,211.5 333.5,211.5 337.5,211.5 341.5,212.5 345.5,213.5 349.5,216.5 353.5,219.5 357.5,221.5 361.5,224.5 365.5,228.5 369.5,234.5 373.5,234.5 377.5,234.5 381.5,235.5 385.5,237.5 389.5,239.5 393.5,241.5 397.5,242.5 401.5,243.5 405.5,246.5 409.5,248.5 413.5,250.5 417.5,253.5 421.5,256.5 425.5,257.5 429.5,258.5 433.5,259.5 437.5,262.5 441.5,265.5 445.5,267.5 449.5,267.5 453.5,264.5 457.5,265.5 461.5,265.5 465.5,264.5 469.5,261.5 473.5,258.5 477.5,258.5 481.5,256.5 485.5,254.5 489.5,253.5 493.5,253.5 497.5,251.5 501.5,249.5 505.5,247.5 509.5,246.5 513.5,243.5 517.5,242.5 521.5,239.5 525.5,237.5 529.5,234.5 533.5,233.5 537.5,232.5 541.5,231.5 545.5,230.5 549.5,233.5 553.5,236.5 557.5,238.5 561.5,239.5 565.5,241.5 569.5,243.5 573.5,246.5 577.5,249.5 581.5,253.5 585.5,258.5 589.5,264.5 593.5,267.5 597.5,273.5 601.5,279.5 605.5,285.5 609.5,291.5 613.5,299.5 617.5,305.5 621.5,313.5 625.5,321.5 629.5,328.5 633.5,332.5 637.5,335.5 641.5,340.5 645.5,345.5 649.5,350.5 653.5,354.5 657.5,357.5 661.5,359.5 665.5,362.5 669.5,364.5 673.5,367.5 677.5,369.5 681.5,371.5 685.5,372.5 689.5,372.5 693.5,372.5 697.5,372.5 701.5,369.5 705.5,367.5 709.5,364.5 713.5,362.5 717.5,361.5 721.5,362.5 725.5,362.5 729.5,362.5 733.5,364.5 737.5,366.5 741.5,367.5 745.5,367.5 749.5,367.5 753.5,366.5 757.5,364.5 761.5,363.5 765.5,361.5 769.5,360.5 773.5,359.5 777.5,357.5 781.5,358.5 785.5,358.5 789.5,357.5 793.5,355.5 797.5,354.5 801.5,352.5 805.5,350.5 809.5,348.5 813.5,345.5 817.5,341.5 821.5,337.5 825.5,332.5 829.5,329.5 833.5,326.5 837.5,324.5 841.5,321.5 845.5,318.5 849.5,316.5 853.5,315.5 857.5,316.5 861.5,318.5 865.5,318.5 869.5,321.5 873.5,325.5 877.5,330.5 881.5,333.5 885.5,337.5 889.5,343.5 893.5,348.5 897.5,353.5 901.5,360.5 905.5,369.5 909.5,378.5 913.5,385.5 917.5,392.5 921.5,400.5 925.5,410.5 929.5,418.5 933.5,428.5 937.5,436.5 941.5,443.5 945.5,449.5 949.5,456.5 953.5,460.5 957.5,464.5 961.5,468.5 965.5,472.5 969.5,477.5 973.5,478.5 977.5,479.5 981.5,481.5 985.5,482.5 989.5,483.5 993.5,484.5 997.5,487.5 1001.5,488.5 1005.5,487.5 1009.5,485.5 1013.5,484.5 1017.5,481.5 1021.5,478.5 1025.5,475.5 1029.5,472.5 1033.5,469.5 1037.5,466.5 1041.5,462.5 1045.5,459.5 1049.5,455.5 1053.5,451.5 1057.5,451.5 1061.5,450.5 1065.5,449.5 1069.5,448.5 1073.5,446.5 1077.5,445.5 1081.5,443.5 1085.5,443.5 1089.5,445.5 1093.5,447.5 1097.5,451.5 1101.5,455.5 1105.5,459.5 1109.5,462.5 1113.5,465.5 1117.5,470.5 1121.5,475.5 1125.5,480.5 1129.5,484.5" />
<polyline fill="none" stroke="#ff0000" stroke-width="1" shape-rendering="crispEdges" points="5.5,170.5 9.5,162.5 13.5,153.5 17.5,148.5 21.5,147.5 25.5,146.5 29.5,145.5 33.5,146.5 37.5,145.5 41.5,146.5 45.5,145.5 49.5,141.5 53.5,135.5 57.5,131.5 61.5,129.5 65.5,127.5 69.5,128.5 73.5,130.5 77.5,129.5 81.5,132.5 85.5,135.5 89.5,137.5 93.5,137.5 97.5,138.5 101.5,138.5 105.5,144.5 109.5,151.5 113.5,158.5 117.5,165.5 121.5,178.5 125.5,187.5 129.5,198.5 133.5,207.5 137.5,216.5 141.5,222.5 145.5,228.5 149.5,237.5 153.5,245.5 157.5,254.5 161.5,261.5 165.5,267.5 169.5,280.5 173.5,289.5 177.5,289.5 181.5,288.5 185.5,283.5 189.5,278.5 193.5,271.5 197.5,264.5 201.5,258.5 205.5,249.5 209.5,242.5 213.5,234.5 217.5,227.5 221.5,220.5 225.5,208.5 229.5,200.5 233.5,199.5 237.5,199.5 241.5,199.5 245.5,202.5 249.5,202.5 253.5,203.5 257.5,205.5 261.5,208.5 265.5,205.5 269.5,202.5 273.5,198.5 277.5,195.5 281.5,193.5 285.5,189.5 289.5,191.5 293.5,192.5 297.5,195.5 301.5,195.5 305.5,200.5 309.5,204.5 313.5,207.5 317.5,210.5 321.5,215.5 325.5,221.5 329.5,227.5 333.5,231.5 337.5,233.5 341.5,239.5 345.5,238.5 349.5,235.5 353.5,230.5 357.5,226.5 361.5,222.5 365.5,222.5 369.5,223.5 373.5,223.5 377.5,226.5 381.5,230.5 385.5,235.5 389.5,242.5 393.5,248.5 397.5,252.5 401.5,256.5 405.5,260.5 409.5,264.5 413.5,271.5 417.5,274.5 421.5,275.5 425.5,273.5 429.5,274.5 433.5,272.5 437.5,270.5 441.5,267.5 445.5,264.5 449.5,261.5 453.5,256.5 457.5,255.5 461.5,254.5 465.5,254.5 469.5,251.5 473.5,250.5 477.5,252.5 481.5,251.5 485.5,250.5 489.5,251.5 493.5,251.5 497.5,249.5 501.5,247.5 505.5,244.5 509.5,245.5 513.5,241.5 517.5,237.5 521.5,233.5 525.5,230.5 529.5,227.5 533.5,223.5 537.5,221.5 541.5,220.5 545.5,220.5 549.5,224.5 553.5,229.5 557.5,234.5 561.5,240.5 565.5,243.5 569.5,250.5 573.5,258.5 577.5,266.5 581.5,274.5 585.5,284.5 589.5,291.5 593.5,298.5 597.5,305.5 601.5,310.5 605.5,311.5 609.5,313.5 613.5,318.5 617.5,323.5 621.5,330.5 625.5,336.5 629.5,344.5 633.5,348.5 637.5,352.5 641.5,356.5 645.5,362.5 649.5,368.5 653.5,371.5 657.5,373.5 661.5,377.5 665.5,380.5 669.5,382.5 673.5,383.5 677.5,382.5 681.5,381.5 685.5,376.5 689.5,372.5 693.5,370.5 697.5,365.5 701.5,359.5 705.5,354.5 709.5,352.5 713.5,351.5 717.5,351.5 721.5,352.5 725.5,354.5 729.5,355.5 733.5,360.5 737.5,362.5 741.5,366.5 745.5,369.5 749.5,372.5 753.5,373.5 757.5,375.5 761.5,376.5 765.5,375.5 769.5,373.5 773.5,368.5 777.5,363.5 781.5,358.5 785.5,352.5 789.5,343.5 793.5,336.5 797.5,332.5 801.5,329.5 805.5,327.5 809.5,328.5 813.5,328.5 817.5,327.5 821.5,326.5 825.5,325.5 829.5,324.5 833.5,325.5 837.5,322.5 841.5,319.5 845.5,318.5 849.5,317.5 853.5,315.5 857.5,314.5 861.5,314.5 865.5,313.5 869.5,316.5 873.5,319.5 877.5,326.5 881.5,333.5 885.5,342.5 889.5,353.5 893.5,363.5 897.5,377.5 901.5,391.5 905.5,405.5 909.5,419.5 913.5,428.5 917.5,437.5 921.5,445.5 925.5,453.5 929.5,458.5 933.5,465.5 937.5,470.5 941.5,473.5 945.5,473.5 949.5,475.5 953.5,476.5 957.5,474.5 961.5,474.5 965.5,475.5 969.5,480.5 973.5,481.5 977.5,482.5 981.5,483.5 985.5,486.5 989.5,487.5 993.5,490.5 997.5,493.5 1001.5,495.5 1005.5,493.5 1009.5,491.5 1013.5,488.5 1017.5,483.5 1021.5,478.5 1025.5,470.5 1029.5,465.5 1033.5,460.5 1037.5,453.5 1041.5,445.5 1045.5,439.5 1049.5,432.5 1053.5,426.5 1057.5,425.5 1061.5,427.5 1065.5,429.5 1069.5,433.5 1073.5,435.5 1077.5,441.5 1081.5,446.5 1085.5,451.5 1089.5,456.5 1093.5,463.5 1097.5,471.5 1101.5,477.5 1105.5,483.5 1109.5,486.5 1113.5,487.5 1117.5,488.5 1121.5,490.5 1125.5,493.5 1129.5,496.5" />
<polyline fill="none" stroke="#0000ff" stroke-width="1" shape-rendering="crispEdges" points="5.5,160.5 9.5,149.5 13.5,140.5 17.5,131.5 21.5,133.5 25.5,127.5 29.5,124.5 33.5,131.5 37.5,141.5 41.5,152.5 45.5,158.5 49.5,150.5 53.5,144.5 57.5,138.5 61.5,127.5 65.5,114.5 69.5,105.5 73.5,101.5 77.5,108.5 81.5,119.5 85.5,132.5 89.5,146.5 93.5,161.5 97.5,170.5 101.5,175.5 105.5,180.5 109.5,183.5 113.5,184.5 117.5,184.5 121.5,194.5 125.5,204.5 129.5,222.5 133.5,234.5 137.5,248.5 141.5,261.5 145.5,272.5 149.5,279.5 153.5,286.5 157.5,286.5 161.5,288.5 165.5,286.5 169.5,299.5 173.5,306.5 177.5,298.5 181.5,291.5 185.5,281.5 189.5,268.5 193.5,256.5 197.5,229.5 201.5,209.5 205.5,201.5 209.5,193.5 213.5,187.5 217.5,187.5 221.5,185.5 225.5,187.5 229.5,191.5 233.5,197.5 237.5,204.5 241.5,210.5 245.5,218.5 249.5,219.5 253.5,218.5 257.5,219.5 261.5,219.5 265.5,206.5 269.5,193.5 273.5,178.5 277.5,171.5 281.5,168.5 285.5,159.5 289.5,163.5 293.5,178.5 297.5,197.5 301.5,211.5 305.5,229.5 309.5,240.5 313.5,256.5 317.5,256.5 321.5,252.5 325.5,246.5 329.5,243.5 333.5,233.5 337.5,226.5 341.5,222.5 345.5,219.5 349.5,217.5 353.5,215.5 357.5,209.5 361.5,211.5 365.5,218.5 369.5,223.5 373.5,227.5 377.5,234.5 381.5,245.5 385.5,261.5 389.5,273.5 393.5,278.5 397.5,281.5 401.5,284.5 405.5,287.5 409.5,284.5 413.5,281.5 417.5,274.5 421.5,271.5 425.5,265.5 429.5,263.5 433.5,256.5 437.5,256.5 441.5,253.5 445.5,254.5 449.5,251.5 453.5,247.5 457.5,248.5 461.5,252.5 465.5,251.5 469.5,249.5 473.5,247.5 477.5,253.5 481.5,255.5 485.5,252.5 489.5,251.5 493.5,250.5 497.5,249.5 501.5,247.5 505.5,236.5 509.5,236.5 513.5,229.5 517.5,223.5 521.5,216.5 525.5,211.5 529.5,207.5 533.5,209.5 537.5,207.5 541.5,210.5 545.5,218.5 549.5,233.5 553.5,248.5 557.5,261.5 561.5,271.5 565.5,280.5 569.5,290.5 573.5,298.5 577.5,300.5 581.5,300.5 585.5,306.5 589.5,311.5 593.5,316.5 597.5,320.5 601.5,323.5 605.5,323.5 609.5,326.5 613.5,329.5 617.5,335.5 621.5,344.5 625.5,353.5 629.5,364.5 633.5,373.5 637.5,378.5 641.5,384.5 645.5,390.5 649.5,392.5 653.5,388.5 657.5,383.5 661.5,382.5 665.5,382.5 669.5,379.5 673.5,377.5 677.5,373.5 681.5,373.5 685.5,369.5 689.5,362.5 693.5,357.5 697.5,351.5 701.5,341.5 705.5,336.5 709.5,332.5 713.5,333.5 717.5,340.5 721.5,346.5 725.5,356.5 729.5,369.5 733.5,384.5 737.5,392.5 741.5,399.5 745.5,399.5 749.5,397.5 753.5,389.5 757.5,380.5 761.5,369.5 765.5,359.5 769.5,347.5 773.5,338.5 777.5,328.5 781.5,327.5 785.5,324.5 789.5,317.5 793.5,313.5 797.5,316.5 801.5,320.5 805.5,325.5 809.5,328.5 813.5,332.5 817.5,338.5 821.5,338.5 825.5,334.5 829.5,328.5 833.5,325.5 837.5,317.5 841.5,306.5 845.5,299.5 849.5,297.5 853.5,296.5 857.5,300.5 861.5,303.5 865.5,309.5 869.5,325.5 873.5,340.5 877.5,354.5 881.5,370.5 885.5,384.5 889.5,402.5 893.5,417.5 897.5,428.5 901.5,443.5 905.5,456.5 909.5,468.5 913.5,471.5 917.5,471.5 921.5,473.5 925.5,477.5 929.5,472.5 933.5,473.5 937.5,472.5 941.5,474.5 945.5,475.5 949.5,477.5 953.5,474.5 957.5,476.5 961.5,476.5 965.5,478.5 969.5,485.5 973.5,487.5 977.5,488.5 981.5,491.5 985.5,497.5 989.5,499.5 993.5,502.5 997.5,502.5 1001.5,503.5 1005.5,498.5 1009.5,490.5 1013.5,479.5 1017.5,467.5 1021.5,453.5 1025.5,439.5 1029.5,428.5 1033.5,421.5 1037.5,415.5 1041.5,412.5 1045.5,410.5 1049.5,410.5 1053.5,413.5 1057.5,422.5 1061.5,432.5 1065.5,443.5 1069.5,453.5 1073.5,460.5 1077.5,471.5 1081.5,478.5 1085.5,480.5 1089.5,480.5 1093.5,482.5 1097.5,489.5 1101.5,494.5 1105.5,495.5 1109.5,493.5 1113.5,493.5 1117.5,496.5 1121.5,498.5 1125.5,497.5 1129.5,497.5" />
</g>
<g shape-rendering="crispEdges">
<rect x="5" y="317" width="1415" height="3" fill="#ff0000"/>
<rect x="4" y="315" width="7" height="7" fill="#ff0000"/><rect x="7" y="318" width="1" height="1" fill="#fff"/>
<rect x="1414" y="315" width="7" height="7" fill="#ff0000"/><rect x="1417" y="318" width="1" height="1" fill="#fff"/>
<rect x="5" y="386" width="1415" height="3" fill="#ff0000"/>
<rect x="4" y="384" width="7" height="7" fill="#ff0000"/><rect x="7" y="387" width="1" height="1" fill="#fff"/>
<rect x="1414" y="384" width="7" height="7" fill="#ff0000"/><rect x="1417" y="387" width="1" height="1" fill="#fff"/>
<rect x="5" y="456" width="1415" height="3" fill="#00ff00"/>
<rect x="4" y="454" width="7" height="7" fill="#00ff00"/><rect x="7" y="457" width="1" height="1" fill="#fff"/>
<rect x="1414" y="454" width="7" height="7" fill="#00ff00"/><rect x="1417" y="457" width="1" height="1" fill="#fff"/>
<rect x="5" y="546" width="1415" height="3" fill="#0000ff"/>
</g>
<rect x="5" y="22" width="225" height="85" fill="#ffffff"/>
<path d="M8,32 L15,32 L11.5,28 Z" fill="#000"/>
<text x="20.372500000000002" y="33" font-size="9.5" fill="#000" text-anchor="start" font-weight="normal" letter-spacing="0"  textLength="68.46" lengthAdjust="spacingAndGlyphs" stroke="#000" stroke-width="0.18">AUDUSD-,Daily</text>
<text x="94.5725" y="33" font-size="9.5" fill="#000" text-anchor="start" font-weight="normal" letter-spacing="0"  textLength="141.35" lengthAdjust="spacingAndGlyphs" stroke="#000" stroke-width="0.18">0.67181 0.67555 0.67122 0.67410</text>
<path d="M1131,22 L1140,22 L1135.5,27 Z" fill="#c0c0c0"/>
<g shape-rendering="crispEdges">
<rect x="8" y="41" width="52" height="25" fill="#b00000"/>
<rect x="9" y="42" width="50" height="23" fill="url(#gtop)"/>
<rect x="12" y="64" width="44" height="1" fill="#7a0000"/><rect x="12" y="65" width="44" height="1" fill="#f56a6a"/>
<rect x="175" y="41" width="52" height="25" fill="#b00000"/>
<rect x="176" y="42" width="50" height="23" fill="url(#gtop)"/>
<rect x="180" y="64" width="44" height="1" fill="#7a0000"/><rect x="180" y="65" width="44" height="1" fill="#f56a6a"/>
<rect x="8" y="65" width="110" height="40" fill="#b00000"/>
<rect x="9" y="66" width="108" height="38" fill="url(#gbot)"/>
<rect x="119" y="65" width="108" height="40" fill="#b00000"/>
<rect x="120" y="66" width="106" height="38" fill="url(#gbot)"/>
<rect x="12" y="64" width="44" height="1" fill="#7a0000"/><rect x="12" y="65" width="44" height="1" fill="#f56a6a"/>
<rect x="180" y="64" width="44" height="1" fill="#7a0000"/><rect x="180" y="65" width="44" height="1" fill="#f56a6a"/>
<rect x="60" y="38" width="115" height="27" fill="#ffffff"/>
<rect x="62" y="41" width="111" height="22" fill="#b0b4b8"/>
<rect x="63" y="42" width="109" height="20" fill="#ffffff"/>
<rect x="63" y="42" width="20" height="20" fill="url(#gspin)"/>
<rect x="83" y="42" width="1" height="20" fill="#b0b4b8"/>
<rect x="151" y="42" width="1" height="20" fill="#b0b4b8"/>
<rect x="152" y="42" width="20" height="20" fill="url(#gspin)"/>
</g>
<path d="M70,50 L76,50 L73,53 Z" fill="#6464b4"/>
<path d="M159,53 L165,53 L162,50 Z" fill="#6464b4"/>
<text x="124.25999999999999" y="56" font-size="12" fill="#000" text-anchor="start" font-weight="normal" letter-spacing="0"  textLength="23.58" lengthAdjust="spacingAndGlyphs">1.00</text>
<text x="19.66" y="57" font-size="12" fill="#fff" text-anchor="start" font-weight="normal" letter-spacing="0"  textLength="26.68" lengthAdjust="spacingAndGlyphs">SELL</text>
<text x="188.06" y="57" font-size="12" fill="#fff" text-anchor="start" font-weight="normal" letter-spacing="0"  textLength="23.78" lengthAdjust="spacingAndGlyphs">BUY</text>
<text x="27.2465" y="96" font-size="12.3" fill="#fff" text-anchor="start" font-weight="bold" letter-spacing="0"  textLength="24.81" lengthAdjust="spacingAndGlyphs">0.67</text>
<text x="53.737500000000004" y="96" font-size="32.5" fill="#fff" text-anchor="start" font-weight="normal" letter-spacing="0"  textLength="37.42" lengthAdjust="spacingAndGlyphs">41</text>
<text x="94.5" y="79.5" font-size="11" fill="#fff" text-anchor="start" font-weight="bold" letter-spacing="0" >0</text>
<text x="137.14649999999997" y="96" font-size="12.3" fill="#fff" text-anchor="start" font-weight="bold" letter-spacing="0"  textLength="25.21" lengthAdjust="spacingAndGlyphs">0.67</text>
<text x="164.3375" y="96" font-size="32.5" fill="#fff" text-anchor="start" font-weight="normal" letter-spacing="0"  textLength="37.32" lengthAdjust="spacingAndGlyphs">43</text>
<text x="205.5" y="79.5" font-size="11" fill="#fff" text-anchor="start" font-weight="bold" letter-spacing="0" >2</text>
<g shape-rendering="crispEdges" fill="none" stroke="#000" stroke-width="1">
<path d="M4.5,560.5 V21.5 H1420.5 V560.5 Z"/>
<path d="M4.5,665.5 V562.5 H1420.5 V665.5 Z"/>
<path d="M4.5,797.5 V667.5 H1420.5 V797.5 Z"/>
</g>
<g shape-rendering="crispEdges">
<rect x="1421" y="29" width="2" height="1" fill="#000"/>
<rect x="1421" y="62" width="2" height="1" fill="#000"/>
<rect x="1421" y="95" width="2" height="1" fill="#000"/>
<rect x="1421" y="128" width="2" height="1" fill="#000"/>
<rect x="1421" y="161" width="2" height="1" fill="#000"/>
<rect x="1421" y="194" width="2" height="1" fill="#000"/>
<rect x="1421" y="227" width="2" height="1" fill="#000"/>
<rect x="1421" y="260" width="2" height="1" fill="#000"/>
<rect x="1421" y="293" width="2" height="1" fill="#000"/>
<rect x="1421" y="326" width="2" height="1" fill="#000"/>
<rect x="1421" y="359" width="2" height="1" fill="#000"/>
<rect x="1421" y="392" width="2" height="1" fill="#000"/>
<rect x="1421" y="425" width="2" height="1" fill="#000"/>
<rect x="1421" y="458" width="2" height="1" fill="#000"/>
<rect x="1421" y="491" width="2" height="1" fill="#000"/>
<rect x="1421" y="524" width="2" height="1" fill="#000"/>
<rect x="1421" y="557" width="2" height="1" fill="#000"/>
</g>
<text x="1425.4725" y="32.6" font-size="9.5" fill="#000" text-anchor="start" font-weight="normal" letter-spacing="0"  textLength="33.75" lengthAdjust="spacingAndGlyphs" stroke="#000" stroke-width="0.18">0.74190</text>
<text x="1425.4725" y="65.6" font-size="9.5" fill="#000" text-anchor="start" font-weight="normal" letter-spacing="0"  textLength="33.75" lengthAdjust="spacingAndGlyphs" stroke="#000" stroke-width="0.18">0.73720</text>
<text x="1425.4725" y="98.6" font-size="9.5" fill="#000" text-anchor="start" font-weight="normal" letter-spacing="0"  textLength="33.75" lengthAdjust="spacingAndGlyphs" stroke="#000" stroke-width="0.18">0.73240</text>
<text x="1425.4725" y="131.6" font-size="9.5" fill="#000" text-anchor="start" font-weight="normal" letter-spacing="0"  textLength="33.75" lengthAdjust="spacingAndGlyphs" stroke="#000" stroke-width="0.18">0.72760</text>
<text x="1425.4725" y="164.6" font-size="9.5" fill="#000" text-anchor="start" font-weight="normal" letter-spacing="0"  textLength="33.75" lengthAdjust="spacingAndGlyphs" stroke="#000" stroke-width="0.18">0.72280</text>
<text x="1425.4725" y="197.6" font-size="9.5" fill="#000" text-anchor="start" font-weight="normal" letter-spacing="0"  textLength="33.75" lengthAdjust="spacingAndGlyphs" stroke="#000" stroke-width="0.18">0.71800</text>
<text x="1425.4725" y="230.6" font-size="9.5" fill="#000" text-anchor="start" font-weight="normal" letter-spacing="0"  textLength="33.75" lengthAdjust="spacingAndGlyphs" stroke="#000" stroke-width="0.18">0.71320</text>
<text x="1425.4725" y="263.6" font-size="9.5" fill="#000" text-anchor="start" font-weight="normal" letter-spacing="0"  textLength="33.75" lengthAdjust="spacingAndGlyphs" stroke="#000" stroke-width="0.18">0.70850</text>
<text x="1425.4725" y="296.6" font-size="9.5" fill="#000" text-anchor="start" font-weight="normal" letter-spacing="0"  textLength="33.75" lengthAdjust="spacingAndGlyphs" stroke="#000" stroke-width="0.18">0.70370</text>
<text x="1425.4725" y="329.6" font-size="9.5" fill="#000" text-anchor="start" font-weight="normal" letter-spacing="0"  textLength="33.75" lengthAdjust="spacingAndGlyphs" stroke="#000" stroke-width="0.18">0.69890</text>
<text x="1425.4725" y="362.6" font-size="9.5" fill="#000" text-anchor="start" font-weight="normal" letter-spacing="0"  textLength="33.75" lengthAdjust="spacingAndGlyphs" stroke="#000" stroke-width="0.18">0.69410</text>
<text x="1425.4725" y="395.6" font-size="9.5" fill="#000" text-anchor="start" font-weight="normal" letter-spacing="0"  textLength="33.75" lengthAdjust="spacingAndGlyphs" stroke="#000" stroke-width="0.18">0.68930</text>
<text x="1425.4725" y="428.6" font-size="9.5" fill="#000" text-anchor="start" font-weight="normal" letter-spacing="0"  textLength="33.75" lengthAdjust="spacingAndGlyphs" stroke="#000" stroke-width="0.18">0.68460</text>
<text x="1425.4725" y="461.6" font-size="9.5" fill="#000" text-anchor="start" font-weight="normal" letter-spacing="0"  textLength="33.75" lengthAdjust="spacingAndGlyphs" stroke="#000" stroke-width="0.18">0.67980</text>
<text x="1425.4725" y="494.6" font-size="9.5" fill="#000" text-anchor="start" font-weight="normal" letter-spacing="0"  textLength="33.75" lengthAdjust="spacingAndGlyphs" stroke="#000" stroke-width="0.18">0.67500</text>
<text x="1425.4725" y="527.6" font-size="9.5" fill="#000" text-anchor="start" font-weight="normal" letter-spacing="0"  textLength="33.75" lengthAdjust="spacingAndGlyphs" stroke="#000" stroke-width="0.18">0.67020</text>
<text x="1425.4725" y="560.6" font-size="9.5" fill="#000" text-anchor="start" font-weight="normal" letter-spacing="0"  textLength="33.75" lengthAdjust="spacingAndGlyphs" stroke="#000" stroke-width="0.18">0.66540</text>
<g shape-rendering="crispEdges">
<rect x="1422" y="312" width="42" height="11" fill="#ff0000"/>
<rect x="1422" y="381" width="42" height="11" fill="#ff0000"/>
<rect x="1422" y="451" width="42" height="11" fill="#00ff00"/>
<rect x="1422" y="491" width="42" height="11" fill="#000000"/>
<rect x="1422" y="541" width="42" height="11" fill="#0000ff"/>
</g>
<text x="1425.4725" y="321.6" font-size="9.5" fill="#fff" text-anchor="start" font-weight="normal" letter-spacing="0"  textLength="33.75" lengthAdjust="spacingAndGlyphs" stroke="#fff" stroke-width="0.18">0.70010</text>
<text x="1425.4725" y="390.6" font-size="9.5" fill="#fff" text-anchor="start" font-weight="normal" letter-spacing="0"  textLength="33.75" lengthAdjust="spacingAndGlyphs" stroke="#fff" stroke-width="0.18">0.69012</text>
<text x="1425.4725" y="460.6" font-size="9.5" fill="#fff" text-anchor="start" font-weight="normal" letter-spacing="0"  textLength="33.75" lengthAdjust="spacingAndGlyphs" stroke="#fff" stroke-width="0.18">0.67999</text>
<text x="1425.4725" y="500.6" font-size="9.5" fill="#fff" text-anchor="start" font-weight="normal" letter-spacing="0"  textLength="33.75" lengthAdjust="spacingAndGlyphs" stroke="#fff" stroke-width="0.18">0.67410</text>
<text x="1425.4725" y="550.6" font-size="9.5" fill="#fff" text-anchor="start" font-weight="normal" letter-spacing="0"  textLength="33.75" lengthAdjust="spacingAndGlyphs" stroke="#fff" stroke-width="0.18">0.66698</text>
<g clip-path="url(#cd)" shape-rendering="crispEdges">
<rect x="5" y="578" width="1" height="29" fill="#c0c0c0"/><rect x="9" y="573" width="1" height="34" fill="#c0c0c0"/><rect x="13" y="568" width="1" height="39" fill="#c0c0c0"/><rect x="17" y="568" width="1" height="39" fill="#c0c0c0"/><rect x="21" y="574" width="1" height="33" fill="#c0c0c0"/><rect x="25" y="575" width="1" height="32" fill="#c0c0c0"/><rect x="29" y="578" width="1" height="29" fill="#c0c0c0"/><rect x="33" y="582" width="1" height="25" fill="#c0c0c0"/><rect x="37" y="585" width="1" height="22" fill="#c0c0c0"/><rect x="41" y="588" width="1" height="19" fill="#c0c0c0"/><rect x="45" y="590" width="1" height="17" fill="#c0c0c0"/><rect x="49" y="587" width="1" height="20" fill="#c0c0c0"/><rect x="53" y="583" width="1" height="24" fill="#c0c0c0"/><rect x="57" y="582" width="1" height="25" fill="#c0c0c0"/><rect x="61" y="578" width="1" height="29" fill="#c0c0c0"/><rect x="65" y="574" width="1" height="33" fill="#c0c0c0"/><rect x="69" y="575" width="1" height="32" fill="#c0c0c0"/><rect x="73" y="579" width="1" height="28" fill="#c0c0c0"/><rect x="77" y="585" width="1" height="22" fill="#c0c0c0"/><rect x="81" y="592" width="1" height="15" fill="#c0c0c0"/><rect x="85" y="600" width="1" height="7" fill="#c0c0c0"/><rect x="89" y="605" width="1" height="2" fill="#c0c0c0"/><rect x="93" y="606" width="1" height="2" fill="#c0c0c0"/><rect x="97" y="606" width="1" height="4" fill="#c0c0c0"/><rect x="101" y="606" width="1" height="5" fill="#c0c0c0"/><rect x="105" y="606" width="1" height="9" fill="#c0c0c0"/><rect x="109" y="606" width="1" height="12" fill="#c0c0c0"/><rect x="113" y="606" width="1" height="14" fill="#c0c0c0"/><rect x="117" y="606" width="1" height="15" fill="#c0c0c0"/><rect x="121" y="606" width="1" height="21" fill="#c0c0c0"/><rect x="125" y="606" width="1" height="25" fill="#c0c0c0"/><rect x="129" y="606" width="1" height="34" fill="#c0c0c0"/><rect x="133" y="606" width="1" height="39" fill="#c0c0c0"/><rect x="137" y="606" width="1" height="44" fill="#c0c0c0"/><rect x="141" y="606" width="1" height="47" fill="#c0c0c0"/><rect x="145" y="606" width="1" height="46" fill="#c0c0c0"/><rect x="149" y="606" width="1" height="48" fill="#c0c0c0"/><rect x="153" y="606" width="1" height="49" fill="#c0c0c0"/><rect x="157" y="606" width="1" height="48" fill="#c0c0c0"/><rect x="161" y="606" width="1" height="48" fill="#c0c0c0"/><rect x="165" y="606" width="1" height="47" fill="#c0c0c0"/><rect x="169" y="606" width="1" height="55" fill="#c0c0c0"/><rect x="173" y="606" width="1" height="54" fill="#c0c0c0"/><rect x="177" y="606" width="1" height="44" fill="#c0c0c0"/><rect x="181" y="606" width="1" height="36" fill="#c0c0c0"/><rect x="185" y="606" width="1" height="27" fill="#c0c0c0"/><rect x="189" y="606" width="1" height="19" fill="#c0c0c0"/><rect x="193" y="606" width="1" height="11" fill="#c0c0c0"/><rect x="197" y="606" width="1" height="4" fill="#c0c0c0"/><rect x="201" y="603" width="1" height="4" fill="#c0c0c0"/><rect x="205" y="598" width="1" height="9" fill="#c0c0c0"/><rect x="209" y="594" width="1" height="13" fill="#c0c0c0"/><rect x="213" y="591" width="1" height="16" fill="#c0c0c0"/><rect x="217" y="591" width="1" height="16" fill="#c0c0c0"/><rect x="221" y="590" width="1" height="17" fill="#c0c0c0"/><rect x="225" y="591" width="1" height="16" fill="#c0c0c0"/><rect x="229" y="592" width="1" height="15" fill="#c0c0c0"/><rect x="233" y="595" width="1" height="12" fill="#c0c0c0"/><rect x="237" y="598" width="1" height="9" fill="#c0c0c0"/><rect x="241" y="600" width="1" height="7" fill="#c0c0c0"/><rect x="245" y="605" width="1" height="2" fill="#c0c0c0"/><rect x="249" y="602" width="1" height="5" fill="#c0c0c0"/><rect x="253" y="601" width="1" height="6" fill="#c0c0c0"/><rect x="257" y="601" width="1" height="6" fill="#c0c0c0"/><rect x="261" y="602" width="1" height="5" fill="#c0c0c0"/><rect x="265" y="595" width="1" height="12" fill="#c0c0c0"/><rect x="269" y="588" width="1" height="19" fill="#c0c0c0"/><rect x="273" y="585" width="1" height="22" fill="#c0c0c0"/><rect x="277" y="582" width="1" height="25" fill="#c0c0c0"/><rect x="281" y="583" width="1" height="24" fill="#c0c0c0"/><rect x="285" y="582" width="1" height="25" fill="#c0c0c0"/><rect x="289" y="591" width="1" height="16" fill="#c0c0c0"/><rect x="293" y="600" width="1" height="7" fill="#c0c0c0"/><rect x="297" y="606" width="1" height="2" fill="#c0c0c0"/><rect x="301" y="606" width="1" height="7" fill="#c0c0c0"/><rect x="305" y="606" width="1" height="13" fill="#c0c0c0"/><rect x="309" y="606" width="1" height="15" fill="#c0c0c0"/><rect x="313" y="606" width="1" height="17" fill="#c0c0c0"/><rect x="317" y="606" width="1" height="18" fill="#c0c0c0"/><rect x="321" y="606" width="1" height="15" fill="#c0c0c0"/><rect x="325" y="606" width="1" height="13" fill="#c0c0c0"/><rect x="329" y="606" width="1" height="12" fill="#c0c0c0"/><rect x="333" y="606" width="1" height="8" fill="#c0c0c0"/><rect x="337" y="606" width="1" height="5" fill="#c0c0c0"/><rect x="341" y="606" width="1" height="6" fill="#c0c0c0"/><rect x="345" y="606" width="1" height="6" fill="#c0c0c0"/><rect x="349" y="606" width="1" height="4" fill="#c0c0c0"/><rect x="353" y="606" width="1" height="2" fill="#c0c0c0"/><rect x="357" y="603" width="1" height="4" fill="#c0c0c0"/><rect x="361" y="604" width="1" height="3" fill="#c0c0c0"/><rect x="365" y="606" width="1" height="3" fill="#c0c0c0"/><rect x="369" y="606" width="1" height="8" fill="#c0c0c0"/><rect x="373" y="606" width="1" height="10" fill="#c0c0c0"/><rect x="377" y="606" width="1" height="12" fill="#c0c0c0"/><rect x="381" y="606" width="1" height="16" fill="#c0c0c0"/><rect x="385" y="606" width="1" height="21" fill="#c0c0c0"/><rect x="389" y="606" width="1" height="25" fill="#c0c0c0"/><rect x="393" y="606" width="1" height="26" fill="#c0c0c0"/><rect x="397" y="606" width="1" height="28" fill="#c0c0c0"/><rect x="401" y="606" width="1" height="26" fill="#c0c0c0"/><rect x="405" y="606" width="1" height="25" fill="#c0c0c0"/><rect x="409" y="606" width="1" height="22" fill="#c0c0c0"/><rect x="413" y="606" width="1" height="21" fill="#c0c0c0"/><rect x="417" y="606" width="1" height="19" fill="#c0c0c0"/><rect x="421" y="606" width="1" height="17" fill="#c0c0c0"/><rect x="425" y="606" width="1" height="14" fill="#c0c0c0"/><rect x="429" y="606" width="1" height="13" fill="#c0c0c0"/><rect x="433" y="606" width="1" height="8" fill="#c0c0c0"/><rect x="437" y="606" width="1" height="7" fill="#c0c0c0"/><rect x="441" y="606" width="1" height="7" fill="#c0c0c0"/><rect x="445" y="606" width="1" height="7" fill="#c0c0c0"/><rect x="449" y="606" width="1" height="4" fill="#c0c0c0"/><rect x="453" y="606" width="1" height="1" fill="#c0c0c0"/><rect x="457" y="606" width="1" height="2" fill="#c0c0c0"/><rect x="461" y="606" width="1" height="3" fill="#c0c0c0"/><rect x="465" y="606" width="1" height="3" fill="#c0c0c0"/><rect x="469" y="606" width="1" height="1" fill="#c0c0c0"/><rect x="473" y="606" width="1" height="1" fill="#c0c0c0"/><rect x="477" y="606" width="1" height="4" fill="#c0c0c0"/><rect x="481" y="606" width="1" height="2" fill="#c0c0c0"/><rect x="485" y="606" width="1" height="1" fill="#c0c0c0"/><rect x="489" y="606" width="1" height="1" fill="#c0c0c0"/><rect x="493" y="605" width="1" height="2" fill="#c0c0c0"/><rect x="497" y="604" width="1" height="3" fill="#c0c0c0"/><rect x="501" y="602" width="1" height="5" fill="#c0c0c0"/><rect x="505" y="598" width="1" height="9" fill="#c0c0c0"/><rect x="509" y="598" width="1" height="9" fill="#c0c0c0"/><rect x="513" y="595" width="1" height="12" fill="#c0c0c0"/><rect x="517" y="592" width="1" height="15" fill="#c0c0c0"/><rect x="521" y="590" width="1" height="17" fill="#c0c0c0"/><rect x="525" y="590" width="1" height="17" fill="#c0c0c0"/><rect x="529" y="588" width="1" height="19" fill="#c0c0c0"/><rect x="533" y="590" width="1" height="17" fill="#c0c0c0"/><rect x="537" y="591" width="1" height="16" fill="#c0c0c0"/><rect x="541" y="593" width="1" height="14" fill="#c0c0c0"/><rect x="545" y="598" width="1" height="9" fill="#c0c0c0"/><rect x="549" y="606" width="1" height="2" fill="#c0c0c0"/><rect x="553" y="606" width="1" height="10" fill="#c0c0c0"/><rect x="557" y="606" width="1" height="14" fill="#c0c0c0"/><rect x="561" y="606" width="1" height="16" fill="#c0c0c0"/><rect x="565" y="606" width="1" height="17" fill="#c0c0c0"/><rect x="569" y="606" width="1" height="20" fill="#c0c0c0"/><rect x="573" y="606" width="1" height="22" fill="#c0c0c0"/><rect x="577" y="606" width="1" height="26" fill="#c0c0c0"/><rect x="581" y="606" width="1" height="27" fill="#c0c0c0"/><rect x="585" y="606" width="1" height="30" fill="#c0c0c0"/><rect x="589" y="606" width="1" height="31" fill="#c0c0c0"/><rect x="593" y="606" width="1" height="30" fill="#c0c0c0"/><rect x="597" y="606" width="1" height="31" fill="#c0c0c0"/><rect x="601" y="606" width="1" height="32" fill="#c0c0c0"/><rect x="605" y="606" width="1" height="31" fill="#c0c0c0"/><rect x="609" y="606" width="1" height="31" fill="#c0c0c0"/><rect x="613" y="606" width="1" height="33" fill="#c0c0c0"/><rect x="617" y="606" width="1" height="35" fill="#c0c0c0"/><rect x="621" y="606" width="1" height="38" fill="#c0c0c0"/><rect x="625" y="606" width="1" height="41" fill="#c0c0c0"/><rect x="629" y="606" width="1" height="45" fill="#c0c0c0"/><rect x="633" y="606" width="1" height="45" fill="#c0c0c0"/><rect x="637" y="606" width="1" height="43" fill="#c0c0c0"/><rect x="641" y="606" width="1" height="44" fill="#c0c0c0"/><rect x="645" y="606" width="1" height="45" fill="#c0c0c0"/><rect x="649" y="606" width="1" height="43" fill="#c0c0c0"/><rect x="653" y="606" width="1" height="40" fill="#c0c0c0"/><rect x="657" y="606" width="1" height="36" fill="#c0c0c0"/><rect x="661" y="606" width="1" height="34" fill="#c0c0c0"/><rect x="665" y="606" width="1" height="31" fill="#c0c0c0"/><rect x="669" y="606" width="1" height="30" fill="#c0c0c0"/><rect x="673" y="606" width="1" height="29" fill="#c0c0c0"/><rect x="677" y="606" width="1" height="25" fill="#c0c0c0"/><rect x="681" y="606" width="1" height="23" fill="#c0c0c0"/><rect x="685" y="606" width="1" height="18" fill="#c0c0c0"/><rect x="689" y="606" width="1" height="12" fill="#c0c0c0"/><rect x="693" y="606" width="1" height="9" fill="#c0c0c0"/><rect x="697" y="606" width="1" height="6" fill="#c0c0c0"/><rect x="701" y="606" width="1" height="2" fill="#c0c0c0"/><rect x="705" y="604" width="1" height="3" fill="#c0c0c0"/><rect x="709" y="604" width="1" height="3" fill="#c0c0c0"/><rect x="713" y="605" width="1" height="2" fill="#c0c0c0"/><rect x="717" y="606" width="1" height="2" fill="#c0c0c0"/><rect x="721" y="606" width="1" height="6" fill="#c0c0c0"/><rect x="725" y="606" width="1" height="12" fill="#c0c0c0"/><rect x="729" y="606" width="1" height="15" fill="#c0c0c0"/><rect x="733" y="606" width="1" height="20" fill="#c0c0c0"/><rect x="737" y="606" width="1" height="21" fill="#c0c0c0"/><rect x="741" y="606" width="1" height="21" fill="#c0c0c0"/><rect x="745" y="606" width="1" height="19" fill="#c0c0c0"/><rect x="749" y="606" width="1" height="16" fill="#c0c0c0"/><rect x="753" y="606" width="1" height="12" fill="#c0c0c0"/><rect x="757" y="606" width="1" height="8" fill="#c0c0c0"/><rect x="761" y="606" width="1" height="5" fill="#c0c0c0"/><rect x="765" y="605" width="1" height="2" fill="#c0c0c0"/><rect x="769" y="600" width="1" height="7" fill="#c0c0c0"/><rect x="773" y="596" width="1" height="11" fill="#c0c0c0"/><rect x="777" y="592" width="1" height="15" fill="#c0c0c0"/><rect x="781" y="594" width="1" height="13" fill="#c0c0c0"/><rect x="785" y="592" width="1" height="15" fill="#c0c0c0"/><rect x="789" y="589" width="1" height="18" fill="#c0c0c0"/><rect x="793" y="587" width="1" height="20" fill="#c0c0c0"/><rect x="797" y="589" width="1" height="18" fill="#c0c0c0"/><rect x="801" y="591" width="1" height="16" fill="#c0c0c0"/><rect x="805" y="593" width="1" height="14" fill="#c0c0c0"/><rect x="809" y="599" width="1" height="8" fill="#c0c0c0"/><rect x="813" y="600" width="1" height="7" fill="#c0c0c0"/><rect x="817" y="600" width="1" height="7" fill="#c0c0c0"/><rect x="821" y="597" width="1" height="10" fill="#c0c0c0"/><rect x="825" y="595" width="1" height="12" fill="#c0c0c0"/><rect x="829" y="592" width="1" height="15" fill="#c0c0c0"/><rect x="833" y="592" width="1" height="15" fill="#c0c0c0"/><rect x="837" y="592" width="1" height="15" fill="#c0c0c0"/><rect x="841" y="588" width="1" height="19" fill="#c0c0c0"/><rect x="845" y="587" width="1" height="20" fill="#c0c0c0"/><rect x="849" y="586" width="1" height="21" fill="#c0c0c0"/><rect x="853" y="587" width="1" height="20" fill="#c0c0c0"/><rect x="857" y="590" width="1" height="17" fill="#c0c0c0"/><rect x="861" y="595" width="1" height="12" fill="#c0c0c0"/><rect x="865" y="600" width="1" height="7" fill="#c0c0c0"/><rect x="869" y="606" width="1" height="2" fill="#c0c0c0"/><rect x="873" y="606" width="1" height="8" fill="#c0c0c0"/><rect x="877" y="606" width="1" height="13" fill="#c0c0c0"/><rect x="881" y="606" width="1" height="19" fill="#c0c0c0"/><rect x="885" y="606" width="1" height="25" fill="#c0c0c0"/><rect x="889" y="606" width="1" height="33" fill="#c0c0c0"/><rect x="893" y="606" width="1" height="39" fill="#c0c0c0"/><rect x="897" y="606" width="1" height="44" fill="#c0c0c0"/><rect x="901" y="606" width="1" height="50" fill="#c0c0c0"/><rect x="905" y="606" width="1" height="53" fill="#c0c0c0"/><rect x="909" y="606" width="1" height="56" fill="#c0c0c0"/><rect x="913" y="606" width="1" height="53" fill="#c0c0c0"/><rect x="917" y="606" width="1" height="52" fill="#c0c0c0"/><rect x="921" y="606" width="1" height="51" fill="#c0c0c0"/><rect x="925" y="606" width="1" height="52" fill="#c0c0c0"/><rect x="929" y="606" width="1" height="49" fill="#c0c0c0"/><rect x="933" y="606" width="1" height="49" fill="#c0c0c0"/><rect x="937" y="606" width="1" height="47" fill="#c0c0c0"/><rect x="941" y="606" width="1" height="44" fill="#c0c0c0"/><rect x="945" y="606" width="1" height="42" fill="#c0c0c0"/><rect x="949" y="606" width="1" height="41" fill="#c0c0c0"/><rect x="953" y="606" width="1" height="39" fill="#c0c0c0"/><rect x="957" y="606" width="1" height="36" fill="#c0c0c0"/><rect x="961" y="606" width="1" height="35" fill="#c0c0c0"/><rect x="965" y="606" width="1" height="35" fill="#c0c0c0"/><rect x="969" y="606" width="1" height="37" fill="#c0c0c0"/><rect x="973" y="606" width="1" height="34" fill="#c0c0c0"/><rect x="977" y="606" width="1" height="33" fill="#c0c0c0"/><rect x="981" y="606" width="1" height="33" fill="#c0c0c0"/><rect x="985" y="606" width="1" height="32" fill="#c0c0c0"/><rect x="989" y="606" width="1" height="32" fill="#c0c0c0"/><rect x="993" y="606" width="1" height="31" fill="#c0c0c0"/><rect x="997" y="606" width="1" height="32" fill="#c0c0c0"/><rect x="1001" y="606" width="1" height="28" fill="#c0c0c0"/><rect x="1005" y="606" width="1" height="22" fill="#c0c0c0"/><rect x="1009" y="606" width="1" height="16" fill="#c0c0c0"/><rect x="1013" y="606" width="1" height="9" fill="#c0c0c0"/><rect x="1017" y="606" width="1" height="3" fill="#c0c0c0"/><rect x="1021" y="602" width="1" height="5" fill="#c0c0c0"/><rect x="1025" y="598" width="1" height="9" fill="#c0c0c0"/><rect x="1029" y="594" width="1" height="13" fill="#c0c0c0"/><rect x="1033" y="591" width="1" height="16" fill="#c0c0c0"/><rect x="1037" y="588" width="1" height="19" fill="#c0c0c0"/><rect x="1041" y="586" width="1" height="21" fill="#c0c0c0"/><rect x="1045" y="586" width="1" height="21" fill="#c0c0c0"/><rect x="1049" y="586" width="1" height="21" fill="#c0c0c0"/><rect x="1053" y="589" width="1" height="18" fill="#c0c0c0"/><rect x="1057" y="595" width="1" height="12" fill="#c0c0c0"/><rect x="1061" y="601" width="1" height="6" fill="#c0c0c0"/><rect x="1065" y="605" width="1" height="2" fill="#c0c0c0"/><rect x="1069" y="606" width="1" height="3" fill="#c0c0c0"/><rect x="1073" y="606" width="1" height="4" fill="#c0c0c0"/><rect x="1077" y="606" width="1" height="8" fill="#c0c0c0"/><rect x="1081" y="606" width="1" height="11" fill="#c0c0c0"/><rect x="1085" y="606" width="1" height="12" fill="#c0c0c0"/><rect x="1089" y="606" width="1" height="13" fill="#c0c0c0"/><rect x="1093" y="606" width="1" height="15" fill="#c0c0c0"/><rect x="1097" y="606" width="1" height="19" fill="#c0c0c0"/><rect x="1101" y="606" width="1" height="19" fill="#c0c0c0"/><rect x="1105" y="606" width="1" height="19" fill="#c0c0c0"/><rect x="1109" y="606" width="1" height="17" fill="#c0c0c0"/><rect x="1113" y="606" width="1" height="16" fill="#c0c0c0"/><rect x="1117" y="606" width="1" height="17" fill="#c0c0c0"/><rect x="1121" y="606" width="1" height="18" fill="#c0c0c0"/><rect x="1125" y="606" width="1" height="19" fill="#c0c0c0"/><rect x="1129" y="606" width="1" height="18" fill="#c0c0c0"/>
</g>
<g clip-path="url(#cd)">
<polyline fill="none" stroke="#ff0000" stroke-width="1" shape-rendering="crispEdges" points="5.5,584.5 9.5,582.5 13.5,580.5 17.5,578.5 21.5,577.5 25.5,576.5 29.5,576.5 33.5,575.5 37.5,575.5 41.5,577.5 45.5,579.5 49.5,581.5 53.5,582.5 57.5,583.5 61.5,583.5 65.5,583.5 69.5,582.5 73.5,582.5 77.5,581.5 81.5,582.5 85.5,583.5 89.5,585.5 93.5,588.5 97.5,592.5 101.5,596.5 105.5,600.5 109.5,604.5 113.5,608.5 117.5,611.5 121.5,614.5 125.5,617.5 129.5,620.5 133.5,624.5 137.5,629.5 141.5,633.5 145.5,637.5 149.5,640.5 153.5,644.5 157.5,647.5 161.5,650.5 165.5,651.5 169.5,653.5 173.5,654.5 177.5,654.5 181.5,653.5 185.5,650.5 189.5,647.5 193.5,643.5 197.5,638.5 201.5,633.5 205.5,626.5 209.5,619.5 213.5,612.5 217.5,606.5 221.5,602.5 225.5,598.5 229.5,595.5 233.5,594.5 237.5,593.5 241.5,593.5 245.5,595.5 249.5,596.5 253.5,597.5 257.5,598.5 261.5,599.5 265.5,600.5 269.5,599.5 273.5,597.5 277.5,596.5 281.5,593.5 285.5,591.5 289.5,590.5 293.5,590.5 297.5,590.5 301.5,592.5 305.5,596.5 309.5,599.5 313.5,604.5 317.5,608.5 321.5,613.5 325.5,615.5 329.5,617.5 333.5,618.5 337.5,618.5 341.5,617.5 345.5,616.5 349.5,615.5 353.5,613.5 357.5,611.5 361.5,610.5 365.5,608.5 369.5,608.5 373.5,609.5 377.5,610.5 381.5,611.5 385.5,613.5 389.5,615.5 393.5,618.5 397.5,621.5 401.5,624.5 405.5,626.5 409.5,627.5 413.5,628.5 417.5,629.5 421.5,628.5 425.5,627.5 429.5,625.5 433.5,623.5 437.5,621.5 441.5,619.5 445.5,617.5 449.5,616.5 453.5,614.5 457.5,612.5 461.5,611.5 465.5,610.5 469.5,609.5 473.5,608.5 477.5,608.5 481.5,607.5 485.5,607.5 489.5,607.5 493.5,607.5 497.5,606.5 501.5,606.5 505.5,605.5 509.5,604.5 513.5,602.5 517.5,601.5 521.5,599.5 525.5,597.5 529.5,595.5 533.5,594.5 537.5,592.5 541.5,592.5 545.5,592.5 549.5,593.5 553.5,596.5 557.5,599.5 561.5,602.5 565.5,606.5 569.5,610.5 573.5,614.5 577.5,618.5 581.5,622.5 585.5,625.5 589.5,628.5 593.5,629.5 597.5,631.5 601.5,633.5 605.5,634.5 609.5,635.5 613.5,636.5 617.5,637.5 621.5,637.5 625.5,638.5 629.5,640.5 633.5,642.5 637.5,643.5 641.5,644.5 645.5,646.5 649.5,647.5 653.5,648.5 657.5,647.5 661.5,647.5 665.5,645.5 669.5,643.5 673.5,642.5 677.5,640.5 681.5,637.5 685.5,635.5 689.5,631.5 693.5,628.5 697.5,625.5 701.5,622.5 705.5,619.5 709.5,615.5 713.5,613.5 717.5,610.5 721.5,609.5 725.5,609.5 729.5,610.5 733.5,611.5 737.5,613.5 741.5,616.5 745.5,618.5 749.5,620.5 753.5,621.5 757.5,621.5 761.5,620.5 765.5,618.5 769.5,616.5 773.5,612.5 777.5,609.5 781.5,605.5 785.5,602.5 789.5,599.5 793.5,596.5 797.5,594.5 801.5,592.5 805.5,592.5 809.5,592.5 813.5,593.5 817.5,593.5 821.5,594.5 825.5,595.5 829.5,595.5 833.5,596.5 837.5,596.5 841.5,595.5 845.5,594.5 849.5,592.5 853.5,591.5 857.5,590.5 861.5,590.5 865.5,591.5 869.5,592.5 873.5,595.5 877.5,598.5 881.5,602.5 885.5,607.5 889.5,613.5 893.5,619.5 897.5,625.5 901.5,631.5 905.5,637.5 909.5,642.5 913.5,646.5 917.5,650.5 921.5,653.5 925.5,655.5 929.5,656.5 933.5,657.5 937.5,656.5 941.5,655.5 945.5,654.5 949.5,652.5 953.5,651.5 957.5,649.5 961.5,647.5 965.5,646.5 969.5,645.5 973.5,643.5 977.5,642.5 981.5,641.5 985.5,640.5 989.5,639.5 993.5,639.5 997.5,638.5 1001.5,637.5 1005.5,636.5 1009.5,634.5 1013.5,631.5 1017.5,628.5 1021.5,624.5 1025.5,620.5 1029.5,615.5 1033.5,610.5 1037.5,605.5 1041.5,600.5 1045.5,596.5 1049.5,593.5 1053.5,591.5 1057.5,591.5 1061.5,591.5 1065.5,592.5 1069.5,594.5 1073.5,596.5 1077.5,599.5 1081.5,602.5 1085.5,606.5 1089.5,609.5 1093.5,612.5 1097.5,614.5 1101.5,616.5 1105.5,618.5 1109.5,620.5 1113.5,621.5 1117.5,621.5 1121.5,622.5 1125.5,623.5 1129.5,623.5" stroke-dasharray="3,3"/>
</g>
<rect x="749" y="564" width="1" height="23" fill="#ff0000" shape-rendering="crispEdges"/>
<text x="8.8725" y="575" font-size="9.5" fill="#000" text-anchor="start" font-weight="normal" letter-spacing="0"  textLength="154.45" lengthAdjust="spacingAndGlyphs" stroke="#000" stroke-width="0.18">MACD(12,26,9) -0.001904 -0.001972</text>
<g shape-rendering="crispEdges">
<rect x="1421" y="563" width="2" height="1" fill="#000"/>
<rect x="1421" y="606" width="2" height="1" fill="#000"/>
<rect x="1421" y="664" width="2" height="1" fill="#000"/>
</g>
<text x="1423.9725" y="573" font-size="9.5" fill="#000" text-anchor="start" font-weight="normal" letter-spacing="0"  textLength="37.95" lengthAdjust="spacingAndGlyphs" stroke="#000" stroke-width="0.18">0.004696</text>
<text x="1423.9725" y="610" font-size="9.5" fill="#000" text-anchor="start" font-weight="normal" letter-spacing="0"  textLength="18.05" lengthAdjust="spacingAndGlyphs" stroke="#000" stroke-width="0.18">0.00</text>
<text x="1423.9725" y="662" font-size="9.5" fill="#000" text-anchor="start" font-weight="normal" letter-spacing="0"  textLength="43.95" lengthAdjust="spacingAndGlyphs" stroke="#000" stroke-width="0.18">-0.006427</text>
<g shape-rendering="crispEdges">
<line x1="5" y1="707.5" x2="1420" y2="707.5" stroke="#c0c0c0" stroke-dasharray="3,3"/>
<line x1="5" y1="758.5" x2="1420" y2="758.5" stroke="#c0c0c0" stroke-dasharray="3,3"/>
</g>
<g clip-path="url(#cr)">
<polyline fill="none" stroke="#1e90ff" stroke-width="1" shape-rendering="crispEdges" points="5.5,714.5 9.5,711.5 13.5,711.5 17.5,718.5 21.5,732.5 25.5,726.5 29.5,728.5 33.5,731.5 37.5,731.5 41.5,732.5 45.5,731.5 49.5,720.5 53.5,717.5 57.5,722.5 61.5,716.5 65.5,713.5 69.5,724.5 73.5,732.5 77.5,736.5 81.5,740.5 85.5,743.5 89.5,741.5 93.5,737.5 97.5,736.5 101.5,736.5 105.5,743.5 109.5,743.5 113.5,743.5 117.5,740.5 121.5,752.5 125.5,750.5 129.5,759.5 133.5,757.5 137.5,758.5 141.5,755.5 145.5,748.5 149.5,754.5 153.5,751.5 157.5,751.5 161.5,752.5 165.5,749.5 169.5,764.5 173.5,746.5 177.5,731.5 181.5,730.5 185.5,728.5 189.5,725.5 193.5,724.5 197.5,722.5 201.5,720.5 205.5,721.5 209.5,721.5 213.5,720.5 217.5,727.5 221.5,724.5 225.5,729.5 229.5,730.5 233.5,733.5 237.5,738.5 241.5,733.5 245.5,742.5 249.5,727.5 253.5,728.5 257.5,731.5 261.5,733.5 265.5,718.5 269.5,716.5 273.5,720.5 277.5,720.5 281.5,727.5 285.5,722.5 289.5,742.5 293.5,743.5 297.5,744.5 301.5,742.5 305.5,746.5 309.5,739.5 313.5,742.5 317.5,739.5 321.5,733.5 325.5,732.5 329.5,735.5 333.5,729.5 337.5,728.5 341.5,735.5 345.5,734.5 349.5,730.5 353.5,727.5 357.5,724.5 361.5,734.5 365.5,741.5 369.5,745.5 373.5,739.5 377.5,741.5 381.5,745.5 385.5,749.5 389.5,750.5 393.5,744.5 397.5,746.5 401.5,738.5 405.5,740.5 409.5,735.5 413.5,739.5 417.5,734.5 421.5,735.5 425.5,732.5 429.5,734.5 433.5,725.5 437.5,734.5 441.5,733.5 445.5,736.5 449.5,728.5 453.5,725.5 457.5,735.5 461.5,734.5 465.5,733.5 469.5,729.5 473.5,731.5 477.5,741.5 481.5,729.5 485.5,731.5 489.5,732.5 493.5,732.5 497.5,728.5 501.5,727.5 505.5,720.5 509.5,729.5 513.5,721.5 517.5,722.5 521.5,721.5 525.5,723.5 529.5,722.5 533.5,729.5 537.5,728.5 541.5,731.5 545.5,740.5 549.5,753.5 553.5,752.5 557.5,747.5 561.5,746.5 565.5,742.5 569.5,747.5 573.5,748.5 577.5,753.5 581.5,746.5 585.5,753.5 589.5,747.5 593.5,744.5 597.5,747.5 601.5,748.5 605.5,744.5 609.5,747.5 613.5,753.5 617.5,754.5 621.5,757.5 625.5,760.5 629.5,763.5 633.5,752.5 637.5,745.5 641.5,753.5 645.5,753.5 649.5,748.5 653.5,740.5 657.5,740.5 661.5,742.5 665.5,741.5 669.5,742.5 673.5,745.5 677.5,735.5 681.5,738.5 685.5,728.5 689.5,724.5 693.5,729.5 697.5,728.5 701.5,721.5 705.5,724.5 709.5,732.5 713.5,734.5 717.5,740.5 721.5,744.5 725.5,751.5 729.5,748.5 733.5,752.5 737.5,744.5 741.5,743.5 745.5,734.5 749.5,733.5 753.5,729.5 757.5,724.5 761.5,726.5 765.5,721.5 769.5,717.5 773.5,715.5 777.5,715.5 781.5,732.5 785.5,723.5 789.5,719.5 793.5,720.5 797.5,730.5 801.5,730.5 805.5,732.5 809.5,741.5 813.5,733.5 817.5,731.5 821.5,722.5 825.5,724.5 829.5,720.5 833.5,727.5 837.5,727.5 841.5,717.5 845.5,721.5 849.5,723.5 853.5,727.5 857.5,733.5 861.5,737.5 865.5,741.5 869.5,748.5 873.5,749.5 877.5,750.5 881.5,753.5 885.5,757.5 889.5,763.5 893.5,763.5 897.5,763.5 901.5,767.5 905.5,764.5 909.5,765.5 913.5,749.5 917.5,752.5 921.5,754.5 925.5,757.5 929.5,745.5 933.5,752.5 937.5,747.5 941.5,745.5 945.5,744.5 949.5,749.5 953.5,743.5 957.5,742.5 961.5,747.5 965.5,747.5 969.5,754.5 973.5,739.5 977.5,743.5 981.5,744.5 985.5,745.5 989.5,746.5 993.5,746.5 997.5,749.5 1001.5,735.5 1005.5,729.5 1009.5,725.5 1013.5,719.5 1017.5,720.5 1021.5,717.5 1025.5,719.5 1029.5,716.5 1033.5,720.5 1037.5,716.5 1041.5,717.5 1045.5,722.5 1049.5,721.5 1053.5,733.5 1057.5,741.5 1061.5,745.5 1065.5,743.5 1069.5,742.5 1073.5,736.5 1077.5,745.5 1081.5,745.5 1085.5,742.5 1089.5,742.5 1093.5,745.5 1097.5,753.5 1101.5,742.5 1105.5,742.5 1109.5,735.5 1113.5,737.5 1117.5,744.5 1121.5,744.5 1125.5,746.5 1129.5,739.5" />
</g>
<text x="8.6725" y="680" font-size="9.5" fill="#000" text-anchor="start" font-weight="normal" letter-spacing="0"  textLength="68.86" lengthAdjust="spacingAndGlyphs" stroke="#000" stroke-width="0.18">RSI(14) 44.8800</text>
<g shape-rendering="crispEdges">
<rect x="1421" y="668" width="2" height="1" fill="#000"/>
<rect x="1421" y="707" width="2" height="1" fill="#000"/>
<rect x="1421" y="758" width="2" height="1" fill="#000"/>
<rect x="1421" y="796" width="2" height="1" fill="#000"/>
</g>
<text x="1423.6725" y="677.5" font-size="9.5" fill="#000" text-anchor="start" font-weight="normal" letter-spacing="0"  textLength="15.16" lengthAdjust="spacingAndGlyphs" stroke="#000" stroke-width="0.18">100</text>
<text x="1422.9725" y="711" font-size="9.5" fill="#000" text-anchor="start" font-weight="normal" letter-spacing="0"  textLength="10.45" lengthAdjust="spacingAndGlyphs" stroke="#000" stroke-width="0.18">70</text>
<text x="1422.9725" y="762" font-size="9.5" fill="#000" text-anchor="start" font-weight="normal" letter-spacing="0"  textLength="10.45" lengthAdjust="spacingAndGlyphs" stroke="#000" stroke-width="0.18">30</text>
<text x="1423.6725" y="794" font-size="9.5" fill="#000" text-anchor="start" font-weight="normal" letter-spacing="0"  textLength="5.76" lengthAdjust="spacingAndGlyphs" stroke="#000" stroke-width="0.18">0</text>
<g shape-rendering="crispEdges">
<rect x="5" y="798" width="1" height="3" fill="#000"/>
<rect x="69" y="798" width="1" height="3" fill="#000"/>
<rect x="133" y="798" width="1" height="3" fill="#000"/>
<rect x="197" y="798" width="1" height="3" fill="#000"/>
<rect x="261" y="798" width="1" height="3" fill="#000"/>
<rect x="325" y="798" width="1" height="3" fill="#000"/>
<rect x="389" y="798" width="1" height="3" fill="#000"/>
<rect x="453" y="798" width="1" height="3" fill="#000"/>
<rect x="517" y="798" width="1" height="3" fill="#000"/>
<rect x="581" y="798" width="1" height="3" fill="#000"/>
<rect x="645" y="798" width="1" height="3" fill="#000"/>
<rect x="709" y="798" width="1" height="3" fill="#000"/>
<rect x="773" y="798" width="1" height="3" fill="#000"/>
<rect x="837" y="798" width="1" height="3" fill="#000"/>
<rect x="901" y="798" width="1" height="3" fill="#000"/>
<rect x="965" y="798" width="1" height="3" fill="#000"/>
<rect x="1029" y="798" width="1" height="3" fill="#000"/>
<rect x="1093" y="798" width="1" height="3" fill="#000"/>
</g>
<text x="4.172499999999999" y="810" font-size="9.5" fill="#000" text-anchor="start" font-weight="normal" letter-spacing="0"  textLength="54.15" lengthAdjust="spacingAndGlyphs" stroke="#000" stroke-width="0.18">15 Nov 2018</text>
<text x="67.47250000000001" y="810" font-size="9.5" fill="#000" text-anchor="start" font-weight="normal" letter-spacing="0"  textLength="47.65" lengthAdjust="spacingAndGlyphs" stroke="#000" stroke-width="0.18">4 Dec 2018</text>
<text x="131.8725" y="810" font-size="9.5" fill="#000" text-anchor="start" font-weight="normal" letter-spacing="0"  textLength="52.25" lengthAdjust="spacingAndGlyphs" stroke="#000" stroke-width="0.18">23 Dec 2018</text>
<text x="196.0725" y="810" font-size="9.5" fill="#000" text-anchor="start" font-weight="normal" letter-spacing="0"  textLength="50.05" lengthAdjust="spacingAndGlyphs" stroke="#000" stroke-width="0.18">10 Jan 2019</text>
<text x="260.2725" y="810" font-size="9.5" fill="#000" text-anchor="start" font-weight="normal" letter-spacing="0"  textLength="50.05" lengthAdjust="spacingAndGlyphs" stroke="#000" stroke-width="0.18">29 Jan 2019</text>
<text x="324.47249999999997" y="810" font-size="9.5" fill="#000" text-anchor="start" font-weight="normal" letter-spacing="0"  textLength="51.46" lengthAdjust="spacingAndGlyphs" stroke="#000" stroke-width="0.18">17 Feb 2019</text>
<text x="388.1725" y="810" font-size="9.5" fill="#000" text-anchor="start" font-weight="normal" letter-spacing="0"  textLength="47.05" lengthAdjust="spacingAndGlyphs" stroke="#000" stroke-width="0.18">7 Mar 2019</text>
<text x="452.0725" y="810" font-size="9.5" fill="#000" text-anchor="start" font-weight="normal" letter-spacing="0"  textLength="52.25" lengthAdjust="spacingAndGlyphs" stroke="#000" stroke-width="0.18">26 Mar 2019</text>
<text x="515.9725" y="810" font-size="9.5" fill="#000" text-anchor="start" font-weight="normal" letter-spacing="0"  textLength="51.35" lengthAdjust="spacingAndGlyphs" stroke="#000" stroke-width="0.18">14 Apr 2019</text>
<text x="579.5725" y="810" font-size="9.5" fill="#000" text-anchor="start" font-weight="normal" letter-spacing="0"  textLength="50.65" lengthAdjust="spacingAndGlyphs" stroke="#000" stroke-width="0.18">3 May 2019</text>
<text x="643.5725" y="810" font-size="9.5" fill="#000" text-anchor="start" font-weight="normal" letter-spacing="0"  textLength="55.46" lengthAdjust="spacingAndGlyphs" stroke="#000" stroke-width="0.18">22 May 2019</text>
<text x="707.7725" y="810" font-size="9.5" fill="#000" text-anchor="start" font-weight="normal" letter-spacing="0"  textLength="50.35" lengthAdjust="spacingAndGlyphs" stroke="#000" stroke-width="0.18">10 Jun 2019</text>
<text x="771.4725" y="810" font-size="9.5" fill="#000" text-anchor="start" font-weight="normal" letter-spacing="0"  textLength="50.85" lengthAdjust="spacingAndGlyphs" stroke="#000" stroke-width="0.18">28 Jun 2019</text>
<text x="835.5725" y="810" font-size="9.5" fill="#000" text-anchor="start" font-weight="normal" letter-spacing="0"  textLength="47.35" lengthAdjust="spacingAndGlyphs" stroke="#000" stroke-width="0.18">17 Jul 2019</text>
<text x="899.4725" y="810" font-size="9.5" fill="#000" text-anchor="start" font-weight="normal" letter-spacing="0"  textLength="48.56" lengthAdjust="spacingAndGlyphs" stroke="#000" stroke-width="0.18">5 Aug 2019</text>
<text x="963.5725" y="810" font-size="9.5" fill="#000" text-anchor="start" font-weight="normal" letter-spacing="0"  textLength="53.15" lengthAdjust="spacingAndGlyphs" stroke="#000" stroke-width="0.18">23 Aug 2019</text>
<text x="1028.1725" y="810" font-size="9.5" fill="#000" text-anchor="start" font-weight="normal" letter-spacing="0"  textLength="52.06" lengthAdjust="spacingAndGlyphs" stroke="#000" stroke-width="0.18">11 Sep 2019</text>
<text x="1091.5725" y="810" font-size="9.5" fill="#000" text-anchor="start" font-weight="normal" letter-spacing="0"  textLength="52.15" lengthAdjust="spacingAndGlyphs" stroke="#000" stroke-width="0.18">30 Sep 2019</text>
<g shape-rendering="crispEdges">
<rect x="0" y="818" width="1464" height="1" fill="#e6e6e6"/>
<rect x="0" y="820" width="1464" height="20" fill="#f0f0f0"/>
<rect x="0" y="820" width="1464" height="1" fill="#000"/>
<rect x="114" y="820" width="108" height="19" fill="#ffffff"/>
<rect x="114" y="820" width="1" height="19" fill="#000"/>
<rect x="221" y="820" width="1" height="19" fill="#000"/>
<rect x="114" y="838" width="108" height="1" fill="#000"/>
<rect x="115" y="820" width="106" height="1" fill="#ffffff"/>
<rect x="331" y="823" width="1" height="13" fill="#808080"/>
<rect x="439" y="823" width="1" height="13" fill="#808080"/>
<rect x="550" y="823" width="1" height="13" fill="#808080"/>
<rect x="671" y="823" width="1" height="13" fill="#808080"/>
<rect x="794" y="823" width="1" height="13" fill="#808080"/>
<rect x="891" y="823" width="1" height="13" fill="#808080"/>
<rect x="970" y="823" width="1" height="13" fill="#808080"/>
<rect x="1075" y="823" width="1" height="13" fill="#808080"/>
<rect x="1167" y="823" width="1" height="13" fill="#808080"/>
<rect x="1247" y="823" width="1" height="13" fill="#808080"/>
<rect x="0" y="820" width="1" height="20" fill="#a0a0a0"/>
</g>
<text x="17.060000000000002" y="834.5" font-size="12" fill="#6d6d6d" text-anchor="start" font-weight="normal" letter-spacing="0"  textLength="85.48" lengthAdjust="spacingAndGlyphs">EURUSD-,Daily</text>
<text x="233.36" y="834.5" font-size="12" fill="#6d6d6d" text-anchor="start" font-weight="normal" letter-spacing="0"  textLength="85.18" lengthAdjust="spacingAndGlyphs">USDCHF-,Daily</text>
<text x="340.96" y="834.5" font-size="12" fill="#6d6d6d" text-anchor="start" font-weight="normal" letter-spacing="0"  textLength="86.38" lengthAdjust="spacingAndGlyphs">USDCAD-,Daily</text>
<text x="449.76" y="834.5" font-size="12" fill="#6d6d6d" text-anchor="start" font-weight="normal" letter-spacing="0"  textLength="88.78" lengthAdjust="spacingAndGlyphs">USDCNH-,Daily</text>
<text x="560.6600000000001" y="834.5" font-size="12" fill="#6d6d6d" text-anchor="start" font-weight="normal" letter-spacing="0"  textLength="97.88" lengthAdjust="spacingAndGlyphs">EURCHF-,Weekly</text>
<text x="681.46" y="834.5" font-size="12" fill="#6d6d6d" text-anchor="start" font-weight="normal" letter-spacing="0"  textLength="100.98" lengthAdjust="spacingAndGlyphs">XAUUSD-,Weekly</text>
<text x="804.76" y="834.5" font-size="12" fill="#6d6d6d" text-anchor="start" font-weight="normal" letter-spacing="0"  textLength="73.28" lengthAdjust="spacingAndGlyphs">GBPUSD-,H1</text>
<text x="900.86" y="834.5" font-size="12" fill="#6d6d6d" text-anchor="start" font-weight="normal" letter-spacing="0"  textLength="57.38" lengthAdjust="spacingAndGlyphs">UKOil-,H1</text>
<text x="979.96" y="834.5" font-size="12" fill="#6d6d6d" text-anchor="start" font-weight="normal" letter-spacing="0"  textLength="83.58" lengthAdjust="spacingAndGlyphs">USDX-,Weekly</text>
<text x="1084.06" y="834.5" font-size="12" fill="#6d6d6d" text-anchor="start" font-weight="normal" letter-spacing="0"  textLength="71.08" lengthAdjust="spacingAndGlyphs">EURCHF-,H1</text>
<text x="1177.46" y="834.5" font-size="12" fill="#6d6d6d" text-anchor="start" font-weight="normal" letter-spacing="0"  textLength="56.78" lengthAdjust="spacingAndGlyphs">USOil-,H1</text>
<text x="124.05999999999999" y="834.5" font-size="12" fill="#000" text-anchor="start" font-weight="normal" letter-spacing="0"  textLength="87.18" lengthAdjust="spacingAndGlyphs">AUDUSD-,Daily</text>
<path d="M1435.5,829 L1439,825.5 L1439,832.5 Z" fill="#a0a0a0"/>
<path d="M1455,825.5 L1458.5,829 L1455,832.5 Z" fill="#a0a0a0"/>
</svg></body></html>
